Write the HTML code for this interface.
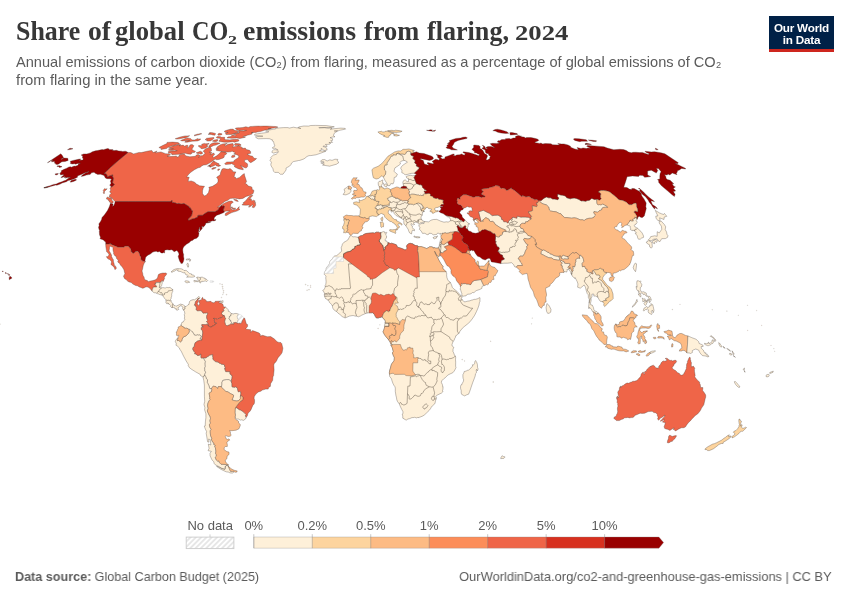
<!DOCTYPE html>
<html lang="en">
<head>
<meta charset="utf-8">
<title>Share of global CO2 emissions from flaring, 2024</title>
<style>
html,body{margin:0;padding:0;background:#fff;}
body{width:850px;height:600px;position:relative;overflow:hidden;font-family:"Liberation Sans",sans-serif;color:#5b5b5b;}
.title{will-change:transform;position:absolute;left:0;top:0;font-family:"Liberation Serif",serif;font-weight:700;color:#373737;white-space:nowrap;}
.title span{position:absolute;line-height:normal;transform-origin:left top;}
.subtitle{will-change:transform;position:absolute;left:16px;top:53px;font-size:15px;line-height:17.700px;color:#5b5b5b;white-space:nowrap;transform-origin:left top;}
.subtitle span{display:block;transform-origin:left top;}
#s1{transform:scaleX(0.9725);}
#s2{transform:scaleX(0.992);}
.logo{will-change:transform;position:absolute;left:769.300px;top:15.800px;width:64.900px;height:33px;background:#002147;border-bottom:3.200px solid #ce261e;color:#fff;font-weight:700;font-size:11.700px;line-height:12.200px;text-align:center;letter-spacing:-0.2px;}
.logo span{display:block;}
.logo span.a{margin-top:5.500px;}
svg.map{position:absolute;left:0;top:0;will-change:transform;}
.foot{will-change:transform;position:absolute;top:568.500px;font-size:13px;line-height:16px;color:#5b5b5b;white-space:nowrap;}
.foot.l{left:15px;transform-origin:left top;transform:scaleX(0.968);}
.foot.r{right:18.500px;transform-origin:right top;transform:scaleX(0.989);}
.foot b{font-weight:700;}
.leg text{font-family:"Liberation Sans",sans-serif;font-size:13px;fill:#5b5b5b;}
</style>
</head>
<body>
<div class="title"><span style="left:16.4px;top:16.18px;font-size:26.85px;transform:scaleX(0.965)">Share</span><span style="left:88.3px;top:16.18px;font-size:26.85px;transform:scaleX(1.030)">of</span><span style="left:115.4px;top:16.18px;font-size:26.85px;transform:scaleX(0.992)">global</span><span style="left:192.4px;top:16.18px;font-size:26.85px;transform:scaleX(0.900)">CO</span><span style="left:227.9px;top:31.92px;font-size:13.00px;transform:scaleX(1.380)">2</span><span style="left:243.3px;top:16.18px;font-size:26.85px;transform:scaleX(1.040)">emissions</span><span style="left:363.6px;top:16.18px;font-size:26.85px;transform:scaleX(0.983)">from</span><span style="left:426.7px;top:16.18px;font-size:26.85px;transform:scaleX(0.973)">flaring,</span><span style="left:514.7px;top:22.01px;font-size:20.30px;transform:scaleX(1.315)">2024</span></div>
<div class="subtitle"><span id="s1">Annual emissions of carbon dioxide (CO₂) from flaring, measured as a percentage of global emissions of CO₂</span><span id="s2">from flaring in the same year.</span></div>
<div class="logo"><span class="a">Our World</span><span>in Data</span></div>
<svg class="map" width="850" height="600" viewBox="0 0 850 600">
<defs>
<pattern id="hatch" width="3.750" height="3.750" patternUnits="userSpaceOnUse" patternTransform="rotate(45)">
<rect width="3.750" height="3.750" fill="#fff"/><line x1="0.950" y1="0" x2="0.950" y2="3.750" stroke="#e6e6e6" stroke-width="1.9"/>
</pattern>
</defs>
<g stroke="#40362e" stroke-width="0.4" stroke-opacity="0.8" stroke-linejoin="round">
<path fill="#ef6548" d="M128.0,152.4L130.9,152.6L133.6,153.9L139.0,152.4L141.2,152.6L148.2,151.0L151.8,150.4L153.1,152.6L157.1,151.0L155.3,152.8L161.0,151.9L165.6,153.7L169.4,153.9L170.5,155.0L167.0,156.1L169.7,156.6L174.5,156.3L176.4,155.9L176.9,157.2L179.8,156.1L178.9,155.2L180.6,154.4L184.3,154.1L185.9,155.9L189.9,156.8L195.5,156.3L196.3,155.0L198.2,154.6L200.2,155.4L198.5,157.5L201.0,155.7L202.4,155.7L205.0,153.5L204.3,152.1L203.1,151.3L205.4,148.9L208.7,147.4L210.6,147.6L211.3,148.7L211.5,151.0L209.1,152.1L211.9,152.6L210.0,154.8L213.8,153.0L214.6,154.6L212.9,156.1L213.3,157.7L216.3,156.1L218.9,154.1L221.0,151.7L223.1,151.9L225.4,152.1L226.8,153.2L226.2,154.3L224.0,155.7L224.4,156.8L223.4,157.9L219.0,159.5L216.5,159.7L215.0,159.0L213.7,160.2L210.7,162.2L209.5,163.1L206.3,164.8L203.7,165.0L201.6,165.9L200.4,167.3L198.1,167.8L194.4,169.7L190.8,172.3L188.7,174.2L186.6,177.1L189.2,177.3L188.4,179.7L188.2,181.4L191.2,180.9L194.1,182.0L195.5,182.9L196.1,184.1L198.0,184.8L199.5,185.8L202.5,186.1L204.5,186.3L203.2,188.3L202.5,190.8L202.5,193.5L204.3,196.0L206.2,195.3L208.5,192.5L209.4,188.8L208.8,187.3L212.4,186.3L215.3,184.6L217.4,182.9L218.1,181.2L217.9,179.1L216.6,177.3L220.2,174.8L220.6,172.6L222.1,169.0L223.8,168.4L226.5,169.0L228.2,169.2L230.0,168.6L231.3,169.4L232.7,170.8L232.8,171.7L235.9,171.9L234.9,173.9L234.0,176.9L235.5,177.3L236.1,178.7L239.5,177.4L242.5,174.7L244.3,173.6L244.7,175.8L245.7,178.8L246.6,181.7L245.2,183.3L247.1,184.6L248.3,186.1L251.1,186.7L252.1,187.5L252.1,189.6L253.5,189.9L253.9,190.9L253.1,193.6L251.4,194.6L249.6,195.5L246.1,196.4L242.9,198.4L239.4,198.9L235.3,198.3L232.3,198.3L230.1,198.5L227.8,200.3L224.8,201.4L220.7,204.8L217.5,207.1L219.4,206.7L223.8,203.4L228.8,201.3L231.9,201.0L233.3,202.2L230.8,203.9L230.5,206.7L230.6,208.6L232.8,209.9L236.3,209.5L239.3,206.6L238.8,208.5L239.9,209.4L236.9,211.1L231.8,212.6L229.4,213.7L226.6,215.5L225.0,215.3L225.6,213.2L229.9,211.0L226.6,211.1L224.2,211.4L223.3,210.0L224.5,206.5L223.8,205.8L222.3,206.2L221.8,205.5L219.6,207.5L218.3,209.5L217.2,210.6L216.2,211.0L215.0,211.8L211.2,211.8L208.1,211.8L207.0,212.3L204.1,214.1L202.7,215.3L198.8,215.3L197.7,215.7L197.8,216.2L197.7,217.0L194.4,218.6L192.1,219.0L189.1,220.3L188.0,220.0L188.1,219.3L190.4,217.0L191.6,215.5L192.1,213.2L192.6,210.9L190.9,209.7L191.2,208.9L190.4,208.5L190.5,207.9L189.5,208.1L189.3,207.6L189.4,206.9L188.2,206.1L186.9,205.3L185.3,204.3L183.9,203.4L181.7,204.1L181.0,204.1L178.9,203.4L177.1,203.8L175.5,203.0L173.6,202.6L172.3,202.4L171.9,202.0L172.2,200.6L171.5,200.6L171.0,201.6L166.8,201.6L160.0,201.6L153.1,201.6L147.1,201.6L141.0,201.6L135.1,201.6L128.9,201.6L121.0,201.6L115.2,201.6L115.0,201.6L112.7,199.1L112.1,198.0L109.2,197.0L109.8,194.7L111.3,193.2L109.6,192.1L110.8,190.1L110.0,188.3L111.0,187.1L113.1,185.9L114.4,184.3L112.5,182.8L113.1,180.0L113.5,178.2L112.9,177.2L112.5,176.2L112.8,174.9L110.2,175.7L107.1,177.0L107.0,175.5L106.7,174.4L105.6,173.7L103.9,173.7L110.6,167.3L118.4,160.4L128.0,152.4ZM256.6,158.5L255.2,160.0L250.8,162.7L249.2,161.7L247.6,159.5L245.2,159.8L244.3,161.1L245.4,162.4L247.2,163.5L247.6,164.1L247.6,166.4L246.2,168.1L244.2,167.4L240.7,165.6L242.2,167.6L243.3,169.0L243.2,169.8L238.8,168.9L235.7,167.5L234.1,166.4L235.1,165.7L233.2,164.6L231.3,163.4L230.9,164.1L225.6,164.5L224.6,163.7L226.8,162.0L230.1,161.9L233.9,161.7L233.8,160.8L235.1,159.7L238.6,157.5L238.7,156.5L238.6,155.7L236.7,154.7L233.7,153.9L235.2,153.3L234.4,152.0L233.0,151.9L232.2,151.1L230.9,151.8L227.6,152.1L222.0,151.5L219.0,150.9L216.6,150.6L215.8,149.8L218.4,148.8L216.0,148.8L217.4,146.7L220.3,144.8L222.7,143.9L227.3,143.4L225.0,144.7L225.1,146.0L228.0,144.3L232.8,143.5L233.7,145.6L232.4,147.0L236.0,146.4L238.2,145.6L240.9,146.7L242.5,147.7L242.0,148.6L245.4,148.1L246.1,149.5L249.5,150.3L250.4,151.2L250.8,153.3L247.1,154.3L250.2,155.7L252.6,156.2L254.0,158.3ZM193.9,145.8L192.8,147.8L191.8,149.3L193.5,150.4L195.5,151.4L194.4,152.4L191.5,152.6L191.9,153.4L190.5,154.2L187.8,153.9L185.5,153.3L183.4,153.4L179.6,154.2L175.0,154.5L171.8,154.7L171.9,153.7L170.2,153.1L168.5,153.3L168.3,151.6L169.6,151.3L172.6,151.0L174.8,151.1L177.3,150.7L174.7,150.2L171.0,150.4L168.7,150.3L168.7,149.5L173.4,148.7L170.9,148.7L168.7,148.1L171.9,146.5L174.0,145.7L179.7,144.4L180.9,144.8L179.0,145.8L183.3,145.1L184.3,146.2L187.3,145.1L188.0,145.8L187.1,147.9L188.9,147.0L190.0,144.9L191.8,144.6L193.0,144.9ZM166.9,143.6L167.0,142.4L172.7,142.1L178.1,142.6L179.0,143.2L179.6,144.1L177.0,144.6L171.3,146.1L167.6,147.6L166.5,148.5L161.0,149.5L161.3,148.6L158.9,147.5L160.6,146.6L163.7,145.0ZM277.6,127.3L273.6,128.1L269.8,128.4L268.2,128.7L271.3,128.7L267.1,129.7L264.2,130.3L260.5,131.6L257.2,132.0L255.9,132.4L251.4,132.5L253.2,132.7L251.8,133.1L252.1,134.0L250.2,134.6L247.3,135.2L245.8,135.9L243.1,136.5L243.0,136.9L245.5,136.9L245.2,137.3L239.9,138.5L236.6,137.9L231.7,138.3L229.7,138.1L227.0,137.9L227.9,136.9L231.1,136.5L231.8,135.2L233.1,135.0L235.9,135.9L235.4,134.6L233.4,134.2L235.4,133.5L238.4,133.1L239.5,132.5L238.3,131.8L238.9,130.8L242.6,130.9L243.5,131.1L246.6,130.4L243.5,130.3L238.3,130.4L236.6,129.7L236.3,129.1L235.3,128.6L235.6,128.1L238.1,127.8L239.8,127.8L242.8,127.5L245.7,126.8L247.1,127.0L248.1,127.5L250.3,126.5L252.3,126.4L254.9,126.2L259.2,126.1L259.8,126.2L263.9,126.1L266.8,126.1L269.6,126.2L273.1,126.4L275.9,126.5L277.9,127.0ZM221.5,137.3L224.5,137.3L225.0,138.1L223.9,138.7L225.0,139.3L225.6,139.7L227.7,139.7L229.7,139.9L232.5,139.5L235.8,139.3L238.2,139.5L239.0,140.3L238.7,141.1L237.3,141.5L234.6,142.2L232.9,141.7L228.0,142.2L224.7,142.2L222.4,141.9L218.9,141.3L219.6,140.1L220.5,139.1L219.9,138.3L216.9,138.1L216.2,137.3L217.7,136.5L220.5,136.7ZM238.5,132.5L235.8,133.1L231.7,134.4L228.8,134.6L225.9,134.4L225.4,133.5L226.3,132.9L228.1,132.4L225.4,132.4L224.4,131.8L224.7,130.9L226.6,130.3L228.3,129.7L229.9,129.6L229.8,129.2L233.2,129.1L233.8,130.1L235.6,130.4L237.6,130.8L237.5,131.8ZM197.8,138.5L197.6,139.2L199.3,138.9L200.8,139.0L199.9,139.9L197.8,140.9L192.1,141.2L187.1,142.2L184.8,142.2L185.2,141.5L189.7,140.5L182.2,140.9L180.6,140.5L185.5,138.5L187.7,137.9L190.9,138.7L192.1,139.9L194.7,139.9ZM213.7,145.5L210.4,147.2L208.8,147.0L209.4,145.3L210.4,144.2L212.2,143.2L214.2,142.8L217.5,142.8L220.1,143.2L216.0,145.1ZM205.8,147.9L202.3,148.7L201.0,148.5L200.5,147.8L198.2,146.1L198.8,145.5L201.9,145.7L201.7,144.2L204.3,143.4L205.8,143.8L209.0,143.4L208.9,144.0L206.3,145.1L208.0,145.9ZM209.5,165.0L210.0,167.2L210.1,165.9L207.6,166.2L209.9,164.9L211.5,163.1L213.4,161.1L214.6,161.1L214.2,162.2L215.4,161.8L216.0,162.5L217.4,163.1L219.1,163.8L218.4,165.0L219.9,164.9L220.6,165.7L218.5,166.4L216.2,165.8L215.8,164.8L213.3,166.0L210.0,167.2ZM189.6,135.7L187.4,137.1L185.1,137.9L183.7,137.9L179.6,138.8L176.7,139.1L175.2,138.7L180.1,137.1L185.0,135.9L187.2,135.9ZM194.0,135.2L197.3,134.2L200.9,133.5L201.8,133.8L198.8,134.8L194.7,135.8ZM232.2,155.4L234.7,155.2L234.9,156.8L232.8,157.6L231.3,157.2ZM209.9,132.5L212.6,132.7L215.5,133.5L215.3,134.4L214.9,135.2L212.8,135.0L211.1,134.4L208.0,134.2L210.3,133.6L209.0,133.3ZM218.0,134.0L219.0,133.3L220.6,133.5L221.3,133.5L222.2,134.2L221.1,134.9L218.4,135.3L217.8,134.8ZM252.6,195.8L251.1,197.3L249.0,199.6L250.7,198.7L251.7,199.2L250.8,200.1L252.3,200.8L253.5,200.2L255.2,200.9L254.1,202.8L255.6,202.4L255.5,203.7L255.7,205.3L254.2,207.5L253.3,207.6L252.1,207.2L253.1,205.1L252.6,204.8L249.6,207.0L248.4,206.9L250.2,205.7L248.4,205.1L246.2,205.2L242.3,205.1L242.2,204.4L243.7,203.5L243.1,202.8L245.2,201.3L248.6,197.2L250.3,195.8L252.3,195.0ZM113.1,202.8L111.8,203.2L109.3,202.0L109.3,201.1L108.1,200.2L108.2,199.5L106.5,199.1L106.7,197.7L107.3,197.1L109.0,197.7L109.9,198.0L111.6,198.3L111.7,199.2L111.9,200.4L113.2,201.4ZM233.6,199.3L236.7,199.8L238.4,201.3L237.3,201.4L235.0,200.6L233.6,199.3ZM232.1,206.7L232.4,207.8L233.9,208.2L235.8,208.2L234.4,209.2L233.6,209.3L231.5,208.2L231.1,207.4ZM104.6,188.5L105.2,189.0L107.2,188.8L104.4,191.5L104.4,193.5L103.6,193.5L103.3,192.5L103.7,191.3L103.2,190.5L103.9,189.4ZM217.9,139.7L217.5,141.0L215.7,141.7L213.7,141.6L212.4,141.1L214.2,140.1L217.0,139.6ZM202.6,153.5L200.9,154.2L199.3,153.5L197.7,153.8L196.2,152.8L198.3,152.1L200.3,151.2L201.5,151.8L202.2,152.2L202.3,152.6ZM219.8,169.3L218.4,170.5L217.7,170.3L217.7,169.6L217.8,169.5L219.0,168.8ZM216.2,167.6L215.9,168.0L213.0,169.3L211.8,169.2L211.8,168.6L213.8,167.5ZM236.0,143.5L239.3,143.7L241.1,144.8L240.9,145.4L239.2,145.4L237.5,145.3L235.5,145.6L235.2,145.5L234.3,144.4L235.0,143.6ZM213.8,137.5L214.1,138.3L212.7,139.5L210.4,140.9L207.6,141.1L206.4,140.7L207.5,139.7L205.1,139.7L206.6,138.3L211.3,137.7Z"/>
<path fill="#990000" d="M115.2,201.6L121.0,201.6L128.9,201.6L135.1,201.6L141.0,201.6L147.1,201.6L153.1,201.6L160.0,201.6L166.8,201.6L171.0,201.6L171.5,200.6L172.2,200.6L171.9,202.0L172.3,202.4L173.6,202.6L175.5,203.0L177.1,203.8L178.9,203.4L181.0,204.1L181.7,204.1L183.9,203.4L185.3,204.3L186.9,205.3L188.2,206.1L189.4,206.9L189.3,207.6L189.5,208.1L190.5,207.9L190.4,208.5L191.2,208.9L190.9,209.7L192.6,210.9L192.1,213.2L191.6,215.5L190.4,217.0L188.1,219.3L188.0,220.0L189.1,220.3L192.1,219.0L194.4,218.6L197.7,217.0L197.8,216.2L197.7,215.7L198.8,215.3L202.7,215.3L204.1,214.1L207.0,212.3L208.1,211.8L211.2,211.8L215.0,211.8L216.2,211.0L217.2,210.6L218.3,209.5L219.6,207.5L221.8,205.5L222.3,206.2L223.8,205.8L224.5,206.5L223.3,210.0L224.2,211.4L224.2,211.4L224.3,212.3L221.6,213.5L219.2,214.4L216.8,215.2L215.1,216.7L214.6,217.3L214.1,218.6L214.4,220.0L215.3,220.1L215.3,219.1L215.8,219.7L215.4,220.5L213.8,220.9L212.8,220.8L211.1,221.3L210.2,221.4L208.9,221.5L206.9,222.3L210.2,221.8L210.6,222.3L207.4,223.1L206.1,223.1L206.2,222.8L205.4,223.5L206.0,223.6L204.9,225.5L202.8,227.5L202.8,226.8L202.4,226.6L201.9,226.0L201.9,227.4L202.3,227.9L202.0,228.9L201.1,229.8L199.3,231.9L199.1,231.8L200.3,230.1L199.5,229.1L199.9,226.9L199.1,228.0L199.1,229.7L197.8,229.3L199.0,230.1L198.4,232.6L199.0,232.8L198.9,233.7L198.5,236.3L196.7,238.2L194.2,239.0L192.4,240.5L191.3,240.7L189.9,241.7L189.4,242.5L186.5,244.2L185.0,245.5L183.6,247.0L182.8,248.9L182.8,250.7L183.1,252.9L183.7,254.8L183.5,255.9L184.0,258.9L183.6,260.7L183.3,261.7L182.5,263.3L181.8,263.6L180.8,263.3L180.6,262.2L179.8,261.6L179.0,259.3L178.4,257.3L178.2,256.3L179.0,254.6L178.7,253.1L177.4,250.9L176.7,250.5L174.2,251.7L173.8,251.6L173.0,250.4L171.8,249.7L169.2,250.1L167.3,249.8L165.6,249.9L164.6,250.4L164.8,251.1L164.5,252.1L164.8,252.6L164.3,253.0L163.6,252.6L162.7,253.1L161.1,253.0L159.7,251.6L157.7,251.9L156.3,251.3L154.8,251.5L152.8,252.1L150.3,254.1L147.9,255.2L146.4,256.4L145.6,257.6L145.2,259.4L145.0,260.7L145.3,261.6L145.3,261.6L144.4,261.6L142.9,261.1L141.3,260.2L141.0,259.0L140.9,257.2L139.9,255.7L139.5,254.2L138.9,252.4L137.6,251.3L135.7,251.4L133.8,253.5L132.2,252.7L131.2,251.9L131.1,250.5L130.7,249.1L129.8,247.9L128.9,247.1L128.4,246.2L124.6,246.2L124.2,247.3L122.5,247.3L118.1,247.3L113.7,245.4L110.8,244.2L111.2,243.7L108.3,244.0L105.7,244.1L105.7,244.1L105.8,242.8L105.0,241.3L104.1,241.0L104.1,240.2L103.0,240.1L102.4,239.4L100.5,239.1L100.1,238.7L100.5,237.3L99.5,234.7L99.3,231.1L99.6,230.5L99.1,229.6L98.5,227.4L99.2,225.3L98.8,223.9L100.4,221.7L101.6,219.5L102.0,217.5L104.3,215.1L107.5,210.5L109.2,207.0L110.0,204.8L110.1,203.7L110.7,203.2L113.1,204.0L112.7,206.4L113.6,205.8L114.6,203.7L115.2,201.6ZM128.0,152.4L118.4,160.4L110.6,167.3L103.9,173.7L105.6,173.7L106.7,174.4L107.0,175.5L107.1,177.0L110.2,175.7L112.8,174.9L112.5,176.2L112.9,177.2L113.5,178.2L113.1,180.0L112.5,182.8L114.4,184.3L113.1,185.9L111.0,187.1L111.0,187.1L110.8,186.1L109.7,185.3L111.1,183.2L110.4,181.2L111.5,178.9L109.9,178.8L107.0,178.7L105.4,178.0L104.1,175.5L102.8,175.1L100.4,174.2L97.7,174.4L95.2,173.3L94.1,172.3L91.5,172.8L90.1,174.5L88.9,174.6L86.3,175.1L83.8,175.9L81.2,176.4L82.4,175.0L85.9,172.7L88.6,172.0L88.8,171.4L85.0,172.7L81.9,174.3L77.4,176.0L77.5,177.2L73.8,178.9L70.7,179.9L68.0,180.6L66.4,181.7L62.1,183.0L60.2,184.1L56.9,185.2L55.8,185.0L53.3,185.7L50.4,186.5L48.0,187.3L43.9,188.0L44.0,187.6L47.4,186.5L50.1,185.7L53.5,184.4L56.2,184.1L58.2,183.1L62.5,181.6L63.4,181.1L65.7,180.3L68.1,178.4L70.6,177.0L67.7,177.7L67.5,177.3L65.5,178.2L65.7,177.0L64.2,177.8L64.9,176.6L61.9,177.6L60.8,177.6L62.3,176.2L63.6,175.3L63.4,174.4L60.5,174.9L60.3,173.8L59.7,173.2L61.4,171.9L61.2,170.8L63.6,169.5L66.7,168.2L68.9,167.0L70.6,166.8L71.3,167.2L74.2,166.1L75.2,166.2L77.5,165.5L78.5,164.5L78.0,164.1L80.5,163.2L79.4,163.2L76.9,163.7L75.7,164.2L74.9,163.7L72.1,164.0L70.3,163.4L70.7,162.5L70.3,161.2L74.1,160.2L79.4,159.1L80.9,159.1L79.1,160.2L82.9,160.1L83.3,158.7L82.4,157.9L82.7,156.7L82.4,155.8L81.1,155.1L83.7,153.9L86.8,153.9L90.3,152.9L92.3,151.8L95.5,150.8L97.5,150.5L102.1,149.6L103.4,149.7L107.6,148.5L109.4,149.0L109.2,150.0L110.5,149.6L113.1,149.7L112.3,150.2L114.3,150.6L116.3,150.3L118.8,151.0L121.7,151.2L122.6,151.5L125.3,151.2L126.9,151.8ZM75.2,179.3L76.3,179.5L76.3,180.2L73.5,181.4L70.6,182.3L70.3,181.7L71.2,180.5L73.8,179.7ZM58.1,165.5L58.6,165.9L60.0,165.7L60.6,166.3L62.0,166.6L61.5,166.9L59.5,167.4L58.8,166.9L58.7,166.4L57.0,166.6L56.8,166.4ZM57.3,173.5L58.5,173.7L57.6,174.6L56.0,175.0L55.3,174.6L55.0,173.9ZM44.0,187.6L47.7,186.9L47.8,187.4L43.9,188.0ZM9.9,279.3L9.5,279.7L9.0,279.3L9.2,278.6L9.1,277.7L9.7,276.9L9.7,276.4L9.9,276.2L11.2,276.9L11.5,277.2L11.8,278.2ZM9.6,275.2L8.8,275.4L8.6,274.8L8.4,274.6L8.4,274.5L8.6,274.2L9.4,274.5L9.9,274.9ZM8.4,273.8L7.3,274.0L7.3,273.7L8.3,274.1ZM6.5,273.4L5.6,273.6L5.3,272.9L5.2,272.8L5.9,272.4L6.0,272.6ZM3.1,271.7L2.1,271.5L2.3,271.3L2.7,271.0L3.2,271.1Z"/>
<path fill="#ef6548" d="M105.7,244.1L108.3,244.0L111.2,243.7L110.8,244.2L113.7,245.4L118.1,247.3L122.5,247.3L124.2,247.3L124.6,246.2L128.4,246.2L128.9,247.1L129.8,247.9L130.7,249.1L131.1,250.5L131.2,251.9L132.2,252.7L133.8,253.5L135.7,251.4L137.6,251.3L138.9,252.4L139.5,254.2L139.9,255.7L140.9,257.2L141.0,259.0L141.3,260.2L142.9,261.1L144.4,261.6L145.3,261.6L145.3,261.6L143.9,263.8L143.2,265.7L142.5,269.2L142.1,270.5L142.2,271.9L142.7,273.2L142.9,275.2L144.1,277.2L144.4,278.7L145.1,279.9L147.4,280.6L148.2,281.7L150.3,281.0L152.1,280.7L153.9,280.3L155.3,279.8L156.9,278.8L157.7,277.2L158.2,275.0L158.7,274.3L160.3,273.6L162.8,273.0L164.7,273.1L166.1,272.9L166.6,273.4L166.4,274.7L165.0,276.2L164.2,277.8L164.6,278.3L164.1,279.4L163.2,281.4L162.8,280.7L162.3,280.8L162.3,280.8L161.8,280.8L160.8,282.4L160.5,282.1L160.2,282.2L160.1,282.6L160.1,282.6L158.0,282.6L155.9,282.6L155.7,284.1L154.7,284.1L155.4,284.9L156.2,285.5L156.4,286.1L156.7,286.3L156.6,287.1L153.6,287.1L152.3,289.3L152.6,289.8L152.3,290.4L152.1,291.1L152.1,291.1L149.8,288.3L148.7,287.5L147.0,286.8L145.7,287.0L143.7,288.0L142.5,288.2L141.0,287.5L139.4,287.0L137.4,285.8L135.7,285.5L133.3,284.3L131.6,283.0L131.1,282.3L129.9,282.2L127.7,281.3L126.9,280.1L124.7,278.7L123.8,277.0L123.5,275.8L124.3,275.5L124.2,274.7L124.8,274.1L124.9,273.2L124.4,272.0L124.3,271.0L123.8,269.6L122.3,267.0L120.4,265.0L119.7,263.4L118.0,262.3L117.7,261.7L118.4,260.1L117.4,259.4L116.4,258.2L116.3,256.4L115.1,256.1L114.2,254.8L113.5,253.5L113.7,252.7L113.1,250.7L112.9,248.7L113.2,247.7L112.0,246.7L111.2,246.8L110.2,246.1L109.5,247.1L109.5,248.4L109.1,250.4L109.5,251.4L110.6,253.2L110.8,253.8L111.1,254.0L111.1,254.9L111.5,254.9L111.5,256.6L112.0,257.2L112.3,258.2L113.3,259.5L113.5,261.9L113.9,263.1L114.3,264.3L114.1,265.7L115.2,265.7L115.9,266.9L116.4,268.1L116.3,268.5L115.2,269.5L114.8,269.5L114.5,267.9L113.3,266.4L111.9,265.2L110.9,264.5L111.4,262.6L111.4,261.2L110.5,260.4L109.3,259.2L108.9,259.5L108.5,258.9L107.3,258.2L106.4,256.7L106.6,256.5L107.5,256.7L108.5,255.7L109.0,254.5L107.8,252.6L106.7,251.9L106.4,250.3L106.1,248.6L105.8,246.5Z"/>
<path fill="#fef0d9" d="M152.1,291.1L152.3,290.4L152.6,289.8L152.3,289.3L153.6,287.1L156.6,287.1L156.7,286.3L156.4,286.1L156.2,285.5L155.4,284.9L154.7,284.1L155.7,284.1L155.9,282.6L158.0,282.6L160.1,282.6L160.1,282.6L160.2,282.2L160.5,282.1L160.8,282.4L161.8,280.8L162.3,280.8L162.3,280.8L162.7,281.2L162.5,281.9L162.0,283.0L162.2,283.4L161.8,284.4L161.9,284.6L161.5,285.9L161.0,286.6L160.6,286.7L160.0,287.6L160.7,288.1L160.9,287.7L161.6,288.0L162.4,287.7L163.0,287.6L164.6,287.9L165.7,287.9L166.4,287.6L166.7,287.3L167.4,287.5L168.0,287.6L168.6,287.6L169.1,287.3L170.0,287.7L170.4,287.7L171.1,288.2L171.7,288.8L172.4,289.2L173.0,289.9L172.8,290.2L172.6,290.8L172.7,291.7L172.1,292.6L171.8,293.7L171.6,294.8L171.7,295.5L171.6,296.7L171.3,296.9L171.0,298.1L171.1,298.7L170.5,299.4L170.6,300.1L170.9,300.5L171.4,301.9L172.2,303.0L173.2,304.1L174.0,305.1L173.9,305.6L174.8,305.7L175.1,305.5L175.7,306.1L176.8,306.0L177.8,305.3L179.3,304.8L180.1,304.0L181.3,304.2L181.2,304.4L182.5,304.5L183.5,304.9L184.2,305.7L185.1,306.5L184.8,306.9L185.2,308.4L184.7,309.2L184.0,309.0L183.7,310.2L182.9,309.5L182.5,308.1L183.1,307.4L182.5,307.2L182.1,306.3L181.0,305.6L180.0,305.8L179.5,306.7L178.6,307.3L178.0,307.4L177.8,308.0L178.8,309.4L178.2,309.7L177.8,310.1L176.7,310.2L176.4,308.7L176.1,309.1L175.3,309.0L174.9,307.9L174.0,307.7L173.4,307.5L172.4,307.5L172.3,308.0L172.1,307.6L170.9,307.0L170.4,306.5L170.7,306.0L170.7,305.5L170.1,304.8L169.2,304.3L168.4,304.0L168.3,303.2L167.7,302.8L167.9,303.5L167.4,304.1L166.9,303.4L166.2,303.2L165.9,302.6L165.9,301.8L166.3,301.0L165.7,300.6L166.2,300.1L165.5,299.3L164.5,298.3L164.1,297.4L163.2,296.6L162.1,295.4L162.4,295.0L162.8,295.4L162.9,295.2L162.6,294.4L162.0,294.2L161.7,294.8L160.3,294.7L159.5,294.5L158.6,294.0L157.4,293.8L156.8,293.2L155.6,292.8L154.2,292.7L153.2,292.2L152.1,291.1Z"/>
<path fill="#fef0d9" d="M177.5,268.5L179.4,268.7L181.2,268.8L183.2,269.6L184.0,270.6L186.1,270.3L186.8,270.9L188.6,272.5L189.8,273.7L190.6,273.7L191.9,274.2L191.6,274.9L193.3,275.1L194.9,276.1L194.5,276.7L193.0,277.1L191.5,277.2L189.9,277.0L186.6,277.2L188.3,275.8L187.5,275.1L186.0,274.9L185.4,274.2L185.0,272.7L183.7,272.8L181.7,272.1L181.1,271.6L178.2,271.2L177.5,270.6L178.4,270.0L176.2,269.9L174.4,271.2L173.4,271.3L173.0,271.9L171.9,272.2L171.0,271.9L172.2,271.1L172.9,270.2L174.0,269.6L175.2,269.1Z"/>
<path fill="#fef0d9" d="M197.0,277.1L198.4,277.2L200.3,277.6L200.6,277.2L202.4,277.2L203.7,277.9L204.3,277.8L204.6,278.7L205.8,278.7L205.7,279.4L206.7,279.5L207.7,280.5L206.7,281.6L205.7,281.0L204.7,281.1L203.9,281.0L203.5,281.4L202.6,281.6L202.3,281.0L201.5,281.4L200.4,283.1L199.9,282.7L199.8,282.0L198.4,281.6L197.3,281.7L195.9,281.5L194.8,282.0L193.7,281.2L194.0,280.4L196.0,280.7L197.7,280.9L198.6,280.4L197.7,279.2L197.8,278.2L196.4,277.8Z"/>
<path fill="#fef0d9" d="M186.6,280.8L188.1,281.1L189.3,281.7L189.6,282.4L188.0,282.4L187.2,282.9L186.0,282.5L184.8,281.5L185.2,280.9Z"/>
<path fill="url(#hatch)" stroke="#b9b9b9" d="M212.3,280.8L213.4,281.0L213.8,281.5L213.1,282.2L211.4,282.2L210.1,282.2L210.1,281.1L210.4,280.7Z"/>
<path fill="#fef0d9" d="M188.4,267.1L187.8,267.2L187.4,265.7L186.7,264.9L187.4,263.3L188.1,263.4L188.6,265.5ZM188.8,259.7L186.3,260.1L186.3,259.1L187.4,258.9L188.9,259.0ZM190.7,259.7L190.0,261.5L189.6,261.2L189.9,259.8L189.1,258.8L189.1,258.5Z"/>
<path fill="#fef0d9" d="M221.3,301.0L222.7,300.7L223.1,300.7L222.9,302.7L221.0,303.0L220.6,302.8L221.3,302.0Z"/>
<path fill="#fef0d9" d="M298.7,126.9L303.9,126.0L308.6,126.1L310.7,125.5L315.5,125.4L326.2,125.6L334.3,126.8L331.6,127.4L326.3,127.5L318.8,127.6L319.3,127.9L324.3,127.7L328.3,128.3L331.1,127.8L332.1,128.4L330.3,129.3L334.0,128.7L340.9,128.1L345.1,128.4L345.7,129.1L339.7,130.3L338.8,130.7L334.2,131.0L337.5,131.1L335.5,132.4L334.0,133.5L333.5,135.7L335.0,136.9L332.6,137.0L330.0,137.7L332.6,138.7L332.5,140.4L330.8,140.6L332.5,142.4L328.9,142.5L330.6,143.3L329.9,144.1L327.6,144.4L325.4,144.4L327.1,145.8L326.9,146.8L323.9,145.9L322.9,146.5L325.0,147.0L326.8,148.3L327.1,150.1L324.0,150.5L323.0,149.6L321.2,148.4L321.4,149.9L319.3,151.0L323.6,151.1L325.9,151.2L321.0,153.1L316.0,154.8L310.9,155.6L309.0,155.6L307.0,156.5L304.0,158.9L299.8,160.4L298.6,160.5L296.1,161.1L293.4,161.6L291.5,163.1L290.9,164.7L289.5,166.2L286.0,168.1L286.1,169.9L284.7,171.9L283.0,174.2L280.4,174.3L278.3,172.4L274.7,172.4L273.4,171.1L273.0,168.8L271.1,165.9L270.8,164.3L271.4,162.3L269.9,160.2L271.3,158.5L270.5,157.7L273.3,155.1L276.2,154.3L277.3,153.3L278.5,151.6L276.2,152.4L275.1,152.7L273.5,153.1L271.8,152.3L272.4,150.9L273.6,149.7L275.2,149.7L278.2,150.2L276.1,148.9L275.0,148.1L273.2,148.4L272.2,147.9L275.0,145.9L274.5,145.1L274.0,143.7L273.5,141.5L272.0,140.7L272.6,139.9L269.3,138.7L266.1,138.6L262.0,138.7L258.2,138.8L256.9,138.2L255.4,136.9L259.8,136.3L262.9,136.2L257.0,135.7L254.3,134.9L255.2,134.1L261.6,133.2L267.7,132.4L268.9,131.7L265.6,131.1L267.4,130.4L273.4,129.2L275.6,129.0L275.7,128.3L279.3,127.9L283.8,127.6L288.0,127.6L289.2,128.1L293.5,127.2L296.4,127.8L298.2,127.9L300.8,128.5L298.0,127.6Z"/>
<path fill="#fef0d9" d="M337.8,159.4L337.2,160.8L339.0,162.4L336.5,164.2L331.2,165.7L329.6,166.2L327.3,165.8L322.5,165.1L324.4,164.1L320.8,162.9L324.0,162.5L324.0,161.8L320.5,161.3L321.9,159.8L324.6,159.5L327.1,161.0L329.9,159.8L332.0,160.4L335.0,159.2Z"/>
<path fill="#fef0d9" d="M185.1,306.5L186.2,306.5L188.0,304.7L189.0,304.5L189.1,303.6L189.6,301.4L191.0,300.2L192.5,300.1L192.7,299.6L194.5,299.8L196.4,298.5L197.3,297.9L198.5,296.6L199.3,296.8L199.8,297.5L199.3,298.3L197.8,298.8L197.2,300.1L196.3,300.8L195.5,301.8L195.1,303.7L194.4,305.2L195.6,305.4L195.8,306.6L196.3,307.1L196.4,308.2L196.1,309.2L196.2,309.7L196.7,309.9L197.3,310.8L200.2,310.6L201.6,310.9L203.1,313.2L204.0,312.9L205.7,313.0L207.0,312.7L207.8,313.2L207.4,314.6L206.8,315.5L206.6,317.4L207.0,319.1L207.6,319.9L207.7,320.4L206.5,321.7L207.3,322.3L207.9,323.2L208.6,325.8L208.2,326.1L207.7,324.6L207.1,323.8L206.3,324.7L201.8,324.6L201.9,326.3L203.2,326.5L203.1,327.5L202.7,327.2L201.3,327.7L201.3,329.6L202.4,330.5L202.7,332.0L202.7,333.2L201.8,340.3L200.6,338.9L199.9,338.9L201.3,336.2L199.6,335.0L198.2,335.2L197.3,334.8L196.1,335.4L194.4,335.1L193.0,332.4L191.9,331.7L189.6,329.3L189.0,329.5L188.0,328.9L186.9,328.0L186.2,328.4L184.3,328.1L183.7,326.9L183.3,327.0L181.0,325.5L180.7,324.7L181.5,324.5L181.5,323.2L182.0,322.2L183.2,322.1L184.2,320.4L185.1,319.0L184.3,318.4L184.7,316.9L184.3,314.5L184.8,313.8L184.5,311.6L183.7,310.2L184.0,309.0L184.7,309.2L185.2,308.4L184.8,306.9Z"/>
<path fill="#fef0d9" d="M225.5,307.2L226.9,308.2L228.3,309.9L228.3,311.3L229.2,311.3L230.4,312.6L231.3,313.5L230.8,315.9L229.4,316.5L229.5,317.1L229.1,318.5L230.1,320.4L230.8,320.4L231.1,321.9L232.5,324.1L231.9,324.2L230.6,324.0L229.9,324.7L228.8,325.2L228.1,325.3L227.8,325.8L226.7,325.7L225.3,324.4L225.1,323.2L224.6,321.9L225.0,319.7L225.6,318.8L225.1,317.6L224.4,317.2L224.7,316.0L224.2,315.4L223.0,315.5L221.5,313.5L222.1,312.8L222.1,311.6L223.5,311.2L224.1,310.7L223.3,309.7L223.6,308.8Z"/>
<path fill="#fef0d9" d="M231.3,313.5L234.0,314.0L234.3,313.6L236.1,313.4L238.6,314.1L237.3,316.3L237.5,318.1L238.4,319.6L237.9,320.8L237.7,322.0L237.1,323.1L235.8,322.5L234.7,322.8L233.8,322.5L233.6,323.3L233.9,323.8L233.7,324.3L232.5,324.1L231.1,321.9L230.8,320.4L230.1,320.4L229.1,318.5L229.5,317.1L229.4,316.5L230.8,315.9Z"/>
<path fill="url(#hatch)" stroke="#b9b9b9" d="M238.6,314.1L239.4,314.3L241.1,315.0L243.5,317.2L243.8,318.2L242.4,320.6L241.7,322.6L240.8,323.6L239.7,323.7L239.4,323.0L238.8,322.9L238.1,323.6L237.1,323.1L237.7,322.0L237.9,320.8L238.4,319.6L237.5,318.1L237.3,316.3Z"/>
<path fill="#fef0d9" d="M177.8,338.0L176.0,339.6L175.3,341.5L176.5,344.0L175.8,345.1L177.5,346.2L179.3,347.9L180.1,349.8L181.1,351.0L183.6,356.2L186.2,361.0L188.4,364.5L188.1,365.2L189.2,367.4L191.1,369.0L195.5,371.8L200.2,374.4L200.5,375.5L203.0,377.0L204.1,376.3L204.5,375.0L205.7,372.2L204.5,370.0L205.0,369.1L204.5,368.1L205.3,366.8L205.2,364.6L205.1,362.8L205.6,361.9L203.3,357.7L202.1,358.1L201.0,357.8L200.9,353.9L199.1,355.4L197.1,355.3L196.2,354.0L194.6,353.8L195.1,352.7L193.7,351.1L192.6,348.7L193.2,348.3L193.2,347.2L194.6,346.4L194.3,345.0L194.8,344.1L195.0,342.9L197.5,341.1L199.4,340.6L199.7,340.2L201.8,340.3L200.6,338.9L199.9,338.9L201.3,336.2L199.6,335.0L198.2,335.2L197.3,334.8L196.1,335.4L194.4,335.1L193.0,332.4L191.9,331.7L189.6,329.3L189.0,329.5L189.3,331.5L188.6,333.2L186.1,335.9L183.4,336.9L182.1,339.2L181.7,341.0L180.4,342.1L179.4,340.7L178.4,340.5L177.5,340.7L177.4,339.7L178.1,339.1Z"/>
<path fill="#fef0d9" d="M203.3,357.7L205.6,361.9L205.1,362.8L205.2,364.6L205.3,366.8L204.5,368.1L205.0,369.1L204.5,370.0L205.7,372.2L204.5,375.0L205.8,376.8L206.3,378.7L207.6,379.8L207.2,382.3L208.7,385.2L209.9,388.8L211.5,388.5L213.2,386.1L216.2,386.8L217.7,388.6L218.4,386.5L221.0,386.6L221.4,387.2L222.0,384.1L221.9,382.7L222.8,380.4L226.7,379.6L228.8,379.7L231.0,381.0L231.1,381.8L231.8,381.2L231.4,379.8L231.9,378.6L232.2,376.5L231.5,374.9L230.2,374.2L229.9,373.2L230.1,371.7L225.7,371.6L224.6,368.5L225.3,368.5L225.2,367.4L224.7,366.6L224.5,365.1L223.1,364.3L221.7,364.3L220.6,363.6L219.1,363.0L218.1,362.1L215.5,361.6L212.9,359.3L213.0,357.6L212.7,356.5L212.8,354.6L209.8,355.0L208.7,356.0L206.7,357.1L206.2,357.8L205.0,357.9Z"/>
<path fill="#fef0d9" d="M231.1,381.8L231.0,381.0L228.8,379.7L226.7,379.6L222.8,380.4L221.9,382.7L222.0,384.1L221.4,387.2L225.9,391.5L227.8,391.8L230.8,393.8L233.2,394.8L233.7,395.9L232.0,399.9L234.3,400.6L236.9,401.0L238.6,400.6L240.4,398.6L240.4,396.3L240.7,394.8L240.9,393.3L240.7,391.8L239.9,391.3L239.1,391.8L238.2,391.7L237.9,390.6L237.4,388.3L236.9,387.5L235.4,386.8L234.5,387.3L232.0,386.8L231.9,383.2Z"/>
<path fill="#fef0d9" d="M235.3,408.0L235.1,410.1L235.0,412.8L235.5,415.4L235.1,415.9L235.2,417.6L236.8,419.1L238.3,419.0L240.5,420.1L241.7,419.8L243.4,420.4L245.6,418.9L246.2,417.3L245.4,415.8L246.1,414.6L244.5,412.8L242.6,411.3L240.1,409.7L239.3,409.7L236.7,407.7Z"/>
<path fill="#fef0d9" d="M203.0,377.0L203.8,380.7L204.4,385.0L204.4,390.8L204.4,396.2L204.7,401.3L204.0,404.5L204.9,407.7L204.6,409.8L205.9,413.8L205.9,417.6L205.4,421.8L205.2,426.0L204.3,426.1L205.3,429.0L206.6,431.6L206.2,433.3L207.0,438.1L207.6,441.8L209.0,442.2L208.6,439.0L210.2,439.7L210.9,445.0L208.3,444.1L209.1,448.4L208.0,450.6L211.4,451.4L210.0,453.3L210.1,455.8L212.1,460.1L213.9,461.8L214.0,463.2L215.3,464.8L218.4,466.3L221.9,468.5L224.8,469.3L225.3,468.2L225.2,466.5L226.6,465.5L227.9,464.9L225.9,464.5L221.0,464.2L219.5,462.7L218.8,460.9L217.5,461.0L216.4,460.1L215.2,457.4L216.3,456.3L216.3,454.7L215.6,453.4L215.9,451.2L215.4,447.8L214.7,446.3L215.4,445.8L214.9,444.9L213.7,444.4L214.1,443.3L212.8,442.3L211.3,439.3L212.0,438.8L210.6,435.7L210.3,433.0L210.2,430.7L211.2,429.7L209.9,427.2L209.3,424.8L210.5,423.1L209.9,420.9L210.5,418.4L210.0,416.0L209.3,415.5L207.3,411.0L208.2,408.3L207.5,405.8L207.9,403.4L208.9,401.0L210.3,399.3L209.5,398.3L209.8,397.5L209.1,393.1L211.4,391.8L211.9,389.1L211.5,388.5L209.9,388.8L208.7,385.2L207.2,382.3L207.6,379.8L206.3,378.7L205.8,376.8L204.5,375.0L204.1,376.3ZM228.1,465.8L230.5,471.3L232.6,471.3L233.8,471.4L233.6,472.4L232.3,473.1L230.1,472.9L228.3,472.1L226.1,471.8L223.1,470.4L220.5,469.1L216.5,466.3L218.4,466.8L221.9,468.5L224.8,469.3L225.3,468.2L225.2,466.5L226.6,465.5Z"/>
<path fill="#ef6548" d="M199.3,298.3L199.2,299.0L197.9,299.3L198.5,300.5L198.4,301.8L197.3,303.3L198.1,305.4L199.1,305.2L199.7,303.4L199.1,302.4L199.1,300.5L202.0,299.4L201.7,298.2L202.6,297.3L203.3,299.2L204.9,299.2L206.3,300.7L206.4,301.6L208.4,301.6L210.9,301.3L212.1,302.5L213.9,302.8L215.2,302.0L215.2,301.3L218.1,301.2L220.9,301.1L218.9,301.9L219.6,303.1L221.4,303.3L223.1,304.6L223.4,306.7L225.5,307.2L223.6,308.8L223.3,309.7L224.1,310.7L223.5,311.2L222.1,311.6L222.1,312.8L221.5,313.5L223.0,315.5L223.3,316.3L222.4,317.2L219.8,318.2L218.1,318.6L217.4,319.3L215.6,318.6L213.9,318.3L213.5,318.5L214.5,319.2L214.4,320.9L214.7,322.6L216.6,322.8L216.7,323.4L215.1,324.1L214.8,325.2L212.1,326.2L211.6,327.0L209.8,327.2L208.6,325.8L207.9,323.2L207.3,322.3L206.5,321.7L207.7,320.4L207.6,319.9L207.0,319.1L206.6,317.4L206.8,315.5L207.4,314.6L207.8,313.2L207.0,312.7L205.7,313.0L204.0,312.9L203.1,313.2L201.6,310.9L200.2,310.6L197.3,310.8L196.7,309.9L196.2,309.7L196.1,309.2L196.4,308.2L196.3,307.1L195.8,306.6L195.6,305.4L194.4,305.2L195.1,303.7L195.5,301.8L196.3,300.8L197.2,300.1L197.8,298.8Z"/>
<path fill="#ef6548" d="M243.8,318.2L244.6,318.1L245.1,319.6L246.4,324.1L247.6,324.6L247.6,326.4L245.9,328.5L246.6,329.3L250.7,329.7L250.8,332.3L252.5,330.6L255.4,331.6L259.3,333.1L260.4,334.7L260.1,336.1L262.7,335.3L267.2,336.7L270.7,336.6L274.1,338.8L277.1,341.7L278.9,342.4L280.8,342.5L281.7,343.4L282.5,346.7L282.9,348.3L282.1,352.6L281.0,354.3L277.9,357.9L276.5,360.9L274.9,363.1L274.3,363.2L273.8,365.1L274.1,370.0L273.7,374.0L273.6,375.8L272.9,376.8L272.7,380.3L270.6,383.7L270.4,386.4L268.6,387.5L268.2,389.1L265.8,389.1L262.3,390.1L260.8,391.2L258.3,392.0L255.9,394.1L254.2,396.7L254.1,398.6L254.6,400.1L254.5,402.7L254.1,404.0L252.8,405.4L250.9,410.0L249.3,412.1L248.0,413.3L247.4,415.8L246.2,417.3L245.4,415.8L246.1,414.6L244.5,412.8L242.6,411.3L240.1,409.7L239.3,409.7L236.7,407.7L235.3,408.0L237.8,404.4L239.9,401.9L241.3,400.8L243.0,399.4L242.8,397.3L241.5,395.8L240.4,396.3L240.7,394.8L240.9,393.3L240.7,391.8L239.9,391.3L239.1,391.8L238.2,391.7L237.9,390.6L237.4,388.3L236.9,387.5L235.4,386.8L234.5,387.3L232.0,386.8L231.9,383.2L231.1,381.8L231.8,381.2L231.4,379.8L231.9,378.6L232.2,376.5L231.5,374.9L230.2,374.2L229.9,373.2L230.1,371.7L225.7,371.6L224.6,368.5L225.3,368.5L225.2,367.4L224.7,366.6L224.5,365.1L223.1,364.3L221.7,364.3L220.6,363.6L219.1,363.0L218.1,362.1L215.5,361.6L212.9,359.3L213.0,357.6L212.7,356.5L212.8,354.6L209.8,355.0L208.7,356.0L206.7,357.1L206.2,357.8L205.0,357.9L203.3,357.7L202.1,358.1L201.0,357.8L200.9,353.9L199.1,355.4L197.1,355.3L196.2,354.0L194.6,353.8L195.1,352.7L193.7,351.1L192.6,348.7L193.2,348.3L193.2,347.2L194.6,346.4L194.3,345.0L194.8,344.1L195.0,342.9L197.5,341.1L199.4,340.6L199.7,340.2L201.8,340.3L202.7,333.2L202.7,332.0L202.4,330.5L201.3,329.6L201.3,327.7L202.7,327.2L203.1,327.5L203.2,326.5L201.9,326.3L201.8,324.6L206.3,324.7L207.1,323.8L207.7,324.6L208.2,326.1L208.6,325.8L209.8,327.2L211.6,327.0L212.1,326.2L214.8,325.2L215.1,324.1L216.7,323.4L216.6,322.8L214.7,322.6L214.4,320.9L214.5,319.2L213.5,318.5L213.9,318.3L215.6,318.6L217.4,319.3L218.1,318.6L219.8,318.2L222.4,317.2L223.3,316.3L223.0,315.5L224.2,315.4L224.7,316.0L224.4,317.2L225.1,317.6L225.6,318.8L225.0,319.7L224.6,321.9L225.1,323.2L225.3,324.4L226.7,325.7L227.8,325.8L228.1,325.3L228.8,325.2L229.9,324.7L230.6,324.0L231.9,324.2L232.5,324.1L233.7,324.3L233.9,323.8L233.6,323.3L233.8,322.5L234.7,322.8L235.8,322.5L237.1,323.1L238.1,323.6L238.8,322.9L239.4,323.0L239.7,323.7L240.8,323.6L241.7,322.6L242.4,320.6Z"/>
<path fill="#fdbb84" d="M181.0,325.5L183.3,327.0L183.7,326.9L184.3,328.1L186.2,328.4L186.9,328.0L188.0,328.9L189.0,329.5L189.3,331.5L188.6,333.2L186.1,335.9L183.4,336.9L182.1,339.2L181.7,341.0L180.4,342.1L179.4,340.7L178.4,340.5L177.5,340.7L177.4,339.7L178.1,339.1L177.8,338.0L178.9,336.0L178.4,334.9L177.5,336.1L176.1,335.0L176.6,334.2L176.2,331.9L177.0,331.5L177.4,329.8L178.3,328.2L178.1,327.1L179.4,326.5Z"/>
<path fill="#fdbb84" d="M235.2,417.6L235.3,419.0L238.5,421.2L238.6,423.0L240.2,424.2L240.3,425.4L239.0,428.8L236.1,430.2L232.0,430.7L229.6,430.5L230.4,432.0L230.5,433.9L231.2,435.3L230.2,436.2L228.1,436.5L225.8,435.6L225.2,436.2L226.2,438.8L227.9,439.6L228.8,438.8L229.8,440.1L228.1,440.9L226.9,442.6L227.4,445.1L227.3,446.5L225.4,446.5L224.2,447.8L224.2,449.7L226.9,451.6L229.0,452.1L229.1,454.4L227.2,455.9L226.9,458.8L225.5,459.8L225.2,461.0L226.8,463.6L228.8,465.1L227.9,464.9L225.9,464.5L221.0,464.2L219.5,462.7L218.8,460.9L217.5,461.0L216.4,460.1L215.2,457.4L216.3,456.3L216.3,454.7L215.6,453.4L215.9,451.2L215.4,447.8L214.7,446.3L215.4,445.8L214.9,444.9L213.7,444.4L214.1,443.3L212.8,442.3L211.3,439.3L212.0,438.8L210.6,435.7L210.3,433.0L210.2,430.7L211.2,429.7L209.9,427.2L209.3,424.8L210.5,423.1L209.9,420.9L210.5,418.4L210.0,416.0L209.3,415.5L207.3,411.0L208.2,408.3L207.5,405.8L207.9,403.4L208.9,401.0L210.3,399.3L209.5,398.3L209.8,397.5L209.1,393.1L211.4,391.8L211.9,389.1L211.5,388.5L213.2,386.1L216.2,386.8L217.7,388.6L218.4,386.5L221.0,386.6L221.4,387.2L225.9,391.5L227.8,391.8L230.8,393.8L233.2,394.8L233.7,395.9L232.0,399.9L234.3,400.6L236.9,401.0L238.6,400.6L240.4,398.6L240.4,396.3L241.5,395.8L242.8,397.3L243.0,399.4L241.3,400.8L239.9,401.9L237.8,404.4L235.3,408.0L235.1,410.1L235.0,412.8L235.5,415.4L235.1,415.9ZM228.1,465.8L229.3,466.9L231.1,468.8L234.3,470.3L237.2,470.9L236.9,472.1L235.1,472.3L233.8,471.4L232.6,471.3L230.5,471.3Z"/>
<path fill="#fef0d9" d="M383.4,177.2L385.1,180.6L386.9,183.3L387.7,185.7L389.9,185.6L390.8,183.6L393.1,183.9L394.0,181.6L394.2,177.5L396.1,176.9L397.4,174.2L395.6,172.9L394.0,171.2L394.9,167.9L398.0,165.9L400.5,164.0L400.0,162.6L401.4,161.0L404.3,160.4L406.9,161.5L407.3,162.4L406.2,162.9L402.6,165.4L401.3,166.9L400.7,168.2L401.9,170.4L401.8,172.7L403.7,173.5L405.0,174.8L407.9,174.3L411.0,173.4L414.3,173.2L417.5,170.2L418.9,168.8L419.3,167.6L416.3,166.0L416.6,164.5L414.6,162.8L415.3,160.8L412.7,158.3L413.9,156.6L410.9,155.1L410.8,153.5L411.1,152.0L408.7,151.1L406.3,151.9L405.9,153.5L404.5,154.4L402.6,153.9L400.4,154.0L398.3,152.9L397.4,153.4L396.4,153.5L396.4,155.0L393.2,154.6L392.9,155.9L391.3,155.9L390.4,157.5L389.0,160.0L386.7,163.2L387.4,164.0L386.9,164.9L385.1,164.8L384.2,167.0L384.5,170.1L385.8,171.3L385.5,174.1L384.1,175.8Z"/>
<path fill="#fef0d9" d="M403.7,186.1L403.1,184.0L402.8,182.2L403.5,180.7L405.2,179.8L407.0,181.6L408.5,181.6L408.5,179.7L408.5,178.3L407.9,178.6L406.6,177.8L406.2,176.4L408.4,175.7L410.7,175.3L412.7,175.7L414.6,175.7L415.0,176.1L414.0,177.5L415.0,179.7L415.4,180.9L416.6,183.7L418.7,184.3L419.1,184.9L420.0,184.6L422.0,185.2L422.4,186.4L422.2,187.0L423.7,188.6L424.6,189.1L424.6,189.6L426.0,190.0L426.7,190.7L426.0,191.2L424.4,191.1L424.1,191.3L424.7,192.2L425.5,193.8L423.8,193.9L423.3,194.5L423.4,195.7L422.6,195.5L420.8,195.6L420.2,195.0L419.5,195.5L418.7,195.1L417.2,195.1L414.9,194.4L412.8,194.2L411.3,194.3L410.3,195.0L409.4,195.1L409.2,194.0L408.4,192.8L409.5,192.3L409.4,191.3L408.7,190.4L408.5,189.3L407.9,188.5L406.9,188.2L406.6,187.6L406.7,186.9L405.8,186.5Z"/>
<path fill="#fef0d9" d="M378.0,205.1L377.5,205.5L376.6,205.3L376.6,205.9L375.2,207.4L375.2,208.5L376.2,208.1L376.9,209.3L377.8,209.8L378.8,209.7L379.9,208.8L380.3,209.2L381.3,209.1L381.7,208.1L383.2,208.4L384.1,208.0L384.2,207.0L385.4,207.3L385.6,206.8L387.6,206.4L388.2,207.3L391.1,207.9L391.0,209.2L391.6,210.3L391.1,210.5L391.1,211.4L391.7,212.3L392.3,211.2L393.6,211.6L394.3,213.7L396.2,215.6L399.5,217.3L401.5,218.3L403.1,219.6L403.6,219.8L404.0,220.2L403.8,221.0L403.8,222.8L404.0,224.1L405.3,224.9L405.8,225.7L407.2,227.9L408.1,229.1L408.6,230.8L409.6,232.9L411.5,234.0L411.9,231.7L412.5,230.1L414.5,230.8L414.4,229.3L413.2,228.6L411.9,227.4L412.7,226.8L411.5,225.6L410.9,224.0L411.2,223.5L412.5,224.8L413.7,224.8L414.7,224.4L413.1,222.9L415.6,222.2L416.7,222.5L418.0,222.6L418.0,223.1L418.8,224.3L420.4,222.9L423.8,222.2L424.6,221.5L424.0,221.3L422.1,220.5L421.7,219.5L420.9,218.0L421.4,216.2L422.3,215.1L422.5,212.0L424.1,211.7L423.9,211.0L422.9,210.6L422.0,211.0L421.0,210.5L421.5,210.3L421.7,209.4L422.2,208.6L422.0,208.1L422.4,207.9L422.6,208.3L423.9,208.3L424.4,208.2L424.0,207.9L424.0,207.5L423.2,206.9L422.8,205.8L422.0,205.4L422.0,204.5L421.0,203.8L420.1,203.7L418.5,202.9L417.2,203.2L416.8,203.6L415.9,203.6L415.5,204.1L414.0,204.4L413.4,204.8L412.4,204.2L411.1,204.1L409.8,203.9L409.0,204.4L408.7,203.7L407.5,203.1L407.8,202.0L408.3,201.4L406.3,200.4L404.9,200.7L403.9,200.5L402.8,201.0L401.6,200.1L400.8,200.5L400.7,200.3L399.7,199.1L398.2,198.9L397.9,198.1L396.5,197.9L396.3,198.5L395.1,198.0L395.2,197.3L393.7,197.1L392.7,196.3L391.8,196.5L391.3,196.2L390.8,196.7L389.4,197.2L388.7,197.8L387.3,198.4L387.7,199.1L388.0,200.2L389.0,200.8L390.3,201.9L389.6,203.1L388.9,203.4L389.3,205.0L389.2,205.5L388.5,205.0L387.5,204.9L386.1,205.3L384.3,205.2L384.0,205.9L383.0,205.2L382.4,205.3L380.1,204.6L379.8,205.1Z"/>
<path fill="#fef0d9" d="M367.8,196.2L369.4,195.7L370.9,195.9L372.7,195.3L374.0,196.4L375.1,197.0L374.9,198.7L375.3,199.3L375.3,200.4L374.7,200.5L374.2,200.2L372.4,199.1L371.4,199.3L370.0,198.1L369.1,197.1L368.1,197.0Z"/>
<path fill="#fef0d9" d="M379.3,186.7L378.4,185.3L378.2,182.8L378.5,182.1L379.0,181.4L380.6,181.2L381.3,180.6L382.7,179.9L382.8,181.1L382.3,181.9L382.5,182.6L383.6,183.0L383.2,183.9L382.6,183.6L381.4,185.4L381.9,186.6L380.7,187.0ZM386.4,183.8L387.2,185.1L386.2,187.1L384.0,185.7L383.7,184.6Z"/>
<path fill="#fef0d9" d="M350.8,189.4L351.1,191.1L349.5,193.4L345.9,194.9L343.1,194.5L344.9,191.9L344.0,189.3L346.8,187.4L348.3,186.2L348.6,187.6L348.1,188.9L349.4,188.9Z"/>
<path fill="#fef0d9" d="M414.2,235.9L415.5,236.7L417.2,236.6L418.8,236.8L418.8,237.2L419.9,236.9L419.7,237.7L416.6,237.9L416.6,237.5L413.9,237.0Z"/>
<path fill="#fef0d9" d="M434.0,237.3L434.4,236.7L435.9,236.7L437.8,236.0L436.5,237.1L436.8,237.8L434.7,238.8L433.6,238.5L433.0,237.5Z"/>
<path fill="#fdd49e" d="M414.7,152.4L412.5,151.1L414.4,150.5L408.9,148.9L406.0,149.3L403.0,149.3L400.9,151.0L398.2,150.9L394.7,151.9L390.6,154.6L387.9,156.3L384.3,160.7L381.4,163.9L378.1,166.3L373.5,168.2L371.9,169.7L372.7,175.2L373.4,177.8L376.1,179.0L378.5,178.5L382.0,175.7L383.4,177.2L384.1,175.8L385.5,174.1L385.8,171.3L384.5,170.1L384.2,167.0L385.1,164.8L386.9,164.9L387.4,164.0L386.7,163.2L389.0,160.0L390.4,157.5L391.3,155.9L392.9,155.9L393.2,154.6L396.4,155.0L396.4,153.5L397.4,153.4L398.3,152.9L400.4,154.0L402.6,153.9L404.5,154.4L405.9,153.5L406.3,151.9L408.7,151.1L411.1,152.0L410.8,153.5L412.1,153.3ZM384.7,131.9L385.1,131.3L387.2,131.2L389.1,131.8L394.2,133.2L390.8,133.9L390.3,135.3L389.1,135.7L388.7,137.3L386.9,137.4L383.4,136.2L384.7,135.5L382.3,134.9L379.2,133.3L377.9,131.9L381.7,131.3L382.6,131.9ZM402.1,131.2L400.3,132.1L396.2,132.4L391.8,132.0L391.4,131.6L389.4,131.5L387.6,130.7L391.9,130.3L394.1,130.7L395.3,130.2L399.1,130.6ZM399.5,135.3L396.5,136.1L393.7,135.6L394.6,135.1L393.5,134.5L396.5,134.1L397.3,134.8Z"/>
<path fill="#fdbb84" d="M357.2,177.7L355.2,180.3L357.1,180.0L359.2,180.0L358.6,182.0L356.9,184.2L358.8,184.3L360.7,187.5L362.0,187.9L363.2,190.7L363.8,191.7L366.1,192.2L365.9,193.8L364.9,194.5L365.7,195.8L363.9,197.1L361.3,197.1L357.9,197.8L356.9,197.3L355.6,198.5L353.8,198.2L352.3,199.2L351.3,198.6L354.3,196.0L356.1,195.5L353.0,195.1L352.4,194.0L354.5,193.3L353.5,191.9L353.9,190.3L356.8,190.5L357.1,189.1L355.8,187.5L353.5,187.1L353.1,186.4L353.8,185.3L353.2,184.6L352.1,185.8L352.1,183.4L351.2,182.2L352.0,179.7L353.5,177.7L355.0,177.9ZM351.9,187.7L350.8,189.4L349.4,188.9L348.1,188.9L348.6,187.6L348.3,186.2L349.9,186.1Z"/>
<path fill="#fdd49e" d="M358.9,215.9L360.0,214.3L360.4,209.2L358.3,206.5L356.8,205.2L353.7,204.2L353.6,202.4L356.2,201.8L359.6,202.5L359.0,199.6L360.8,200.7L365.5,198.7L366.1,196.7L367.8,196.2L368.1,197.0L369.1,197.1L370.0,198.1L371.4,199.3L372.4,199.1L374.2,200.2L374.7,200.5L375.3,200.4L376.2,201.1L379.2,201.5L378.2,203.3L378.0,205.1L377.5,205.5L376.6,205.3L376.6,205.9L375.2,207.4L375.2,208.5L376.2,208.1L376.9,209.3L376.8,210.0L377.5,210.9L376.8,211.7L377.4,213.7L378.5,214.0L378.3,215.2L376.5,216.6L372.4,215.9L369.3,216.7L369.2,218.3L369.1,218.3L366.7,218.6L364.3,217.5L363.6,218.0L359.7,216.9ZM381.2,217.9L382.5,216.9L382.9,219.1L382.3,221.1L381.4,220.6L380.8,218.8Z"/>
<path fill="#fdbb84" d="M343.8,219.8L344.0,218.0L343.2,216.9L346.2,215.0L348.8,215.5L351.6,215.5L353.8,215.9L355.5,215.8L358.9,215.9L359.7,216.9L363.6,218.0L364.3,217.5L366.7,218.6L369.1,218.3L369.2,218.3L369.2,219.8L367.3,221.5L364.6,222.1L364.4,222.9L363.1,224.4L362.2,226.5L363.1,228.0L361.8,229.1L361.4,230.8L359.7,231.4L358.2,233.4L355.5,233.4L353.4,233.3L352.0,234.3L351.2,235.2L350.1,235.0L349.3,234.1L348.8,232.7L346.8,232.2L346.6,231.4L347.4,230.4L347.8,229.7L347.0,228.9L347.7,227.2L346.9,225.7L347.8,225.5L347.9,224.2L348.3,223.8L348.4,221.8L349.4,221.1L348.8,219.8L347.6,219.7L347.2,220.1L346.0,220.1L345.5,218.8L344.6,219.2Z"/>
<path fill="#fdd49e" d="M343.8,219.8L344.6,219.2L345.5,218.8L346.0,220.1L347.2,220.1L347.6,219.7L348.8,219.8L349.4,221.1L348.4,221.8L348.3,223.8L347.9,224.2L347.8,225.5L346.9,225.7L347.7,227.2L347.0,228.9L347.8,229.7L347.4,230.4L346.6,231.4L346.8,232.2L345.9,232.9L344.8,232.6L343.6,232.8L344.0,230.8L343.9,229.2L342.9,229.0L342.5,228.0L342.7,226.3L343.6,225.3L343.8,224.3L344.3,222.7L344.3,221.6L343.9,220.7Z"/>
<path fill="#fdd49e" d="M376.3,190.3L376.7,189.8L378.3,189.7L378.7,190.2L379.9,189.0L379.4,188.0L379.3,186.7L380.7,187.0L381.9,186.6L382.0,187.6L384.0,188.1L384.1,189.0L386.0,188.5L387.1,187.9L389.3,188.8L390.3,189.6L390.9,190.9L390.4,191.6L391.2,192.5L391.8,193.8L391.7,194.6L392.7,196.3L391.8,196.5L391.3,196.2L390.8,196.7L389.4,197.2L388.7,197.8L387.3,198.4L387.7,199.1L388.0,200.2L389.0,200.8L390.3,201.9L389.6,203.1L388.9,203.4L389.3,205.0L389.2,205.5L388.5,205.0L387.5,204.9L386.1,205.3L384.3,205.2L384.0,205.9L383.0,205.2L382.4,205.3L380.1,204.6L379.8,205.1L378.0,205.1L378.2,203.3L379.2,201.5L376.2,201.1L375.3,200.4L375.3,199.3L374.9,198.7L375.1,197.0L374.7,194.4L375.9,194.4L376.3,193.4L376.7,191.2Z"/>
<path fill="#fdd49e" d="M369.4,195.7L370.4,195.0L372.1,191.3L374.7,190.3L376.3,190.3L376.7,191.2L376.3,193.4L375.9,194.4L374.7,194.4L375.1,197.0L374.0,196.4L372.7,195.3L370.9,195.9Z"/>
<path fill="#fdbb84" d="M390.3,189.6L391.6,188.9L394.5,187.8L396.8,186.9L398.8,187.4L399.0,187.9L400.9,188.0L403.3,188.3L406.9,188.2L407.9,188.5L408.5,189.3L408.7,190.4L409.4,191.3L409.5,192.3L408.4,192.8L409.2,194.0L409.4,195.1L410.7,197.3L410.6,198.0L409.6,198.3L408.1,200.4L408.7,201.5L408.3,201.4L406.3,200.4L404.9,200.7L403.9,200.5L402.8,201.0L401.6,200.1L400.8,200.5L400.7,200.3L399.7,199.1L398.2,198.9L397.9,198.1L396.5,197.9L396.3,198.5L395.1,198.0L395.2,197.3L393.7,197.1L392.7,196.3L391.7,194.6L391.8,193.8L391.2,192.5L390.4,191.6L390.9,190.9Z"/>
<path fill="#fdd49e" d="M424.1,211.7L423.8,210.3L425.3,209.2L425.8,207.7L427.6,207.4L428.5,208.5L431.2,209.0L431.9,209.6L429.8,210.9L430.3,211.7L432.2,211.7L431.9,212.9L433.1,213.4L435.7,211.9L437.9,211.5L438.1,210.6L436.1,210.7L434.9,210.1L434.6,208.5L436.1,207.6L438.0,207.4L439.3,206.6L440.8,206.4L440.7,205.3L441.6,204.6L443.5,204.4L443.7,203.5L442.9,202.1L443.5,200.8L443.3,200.1L440.1,199.2L439.0,199.3L437.5,198.1L436.1,198.5L433.3,197.6L433.3,197.1L432.3,196.0L430.7,195.9L430.4,195.1L430.8,194.6L429.2,193.2L427.3,193.4L426.6,193.3L426.3,193.9L425.5,193.8L423.8,193.9L423.3,194.5L423.4,195.7L422.6,195.5L420.8,195.6L420.2,195.0L419.5,195.5L418.7,195.1L417.2,195.1L414.9,194.4L412.8,194.2L411.3,194.3L410.3,195.0L409.4,195.1L410.7,197.3L410.6,198.0L409.6,198.3L408.1,200.4L408.7,201.5L408.3,201.4L407.8,202.0L407.5,203.1L408.7,203.7L409.0,204.4L409.8,203.9L411.1,204.1L412.4,204.2L413.4,204.8L414.0,204.4L415.5,204.1L415.9,203.6L416.8,203.6L417.2,203.2L418.5,202.9L420.1,203.7L421.0,203.8L422.0,204.5L422.0,205.4L422.8,205.8L423.2,206.9L424.0,207.5L424.0,207.9L424.4,208.2L423.9,208.3L422.6,208.3L422.4,207.9L422.0,208.1L422.2,208.6L421.7,209.4L421.5,210.3L421.0,210.5L422.0,211.0L422.9,210.6L423.9,211.0Z"/>
<path fill="#fdd49e" d="M391.1,210.5L389.9,209.9L388.3,210.8L388.4,212.1L388.2,212.8L389.0,214.1L391.0,215.4L392.2,217.6L394.7,219.6L396.4,219.6L396.9,220.2L396.3,220.7L398.3,221.6L399.9,222.4L401.8,223.8L402.1,224.3L401.8,225.2L400.5,224.0L398.6,223.6L397.8,225.2L399.4,226.2L399.3,227.6L398.4,227.7L397.4,229.9L396.5,230.1L396.5,229.3L396.8,227.9L397.3,227.4L396.3,225.9L395.6,224.6L394.7,224.3L394.0,223.1L392.6,222.7L391.6,221.6L390.1,221.5L388.4,220.3L386.3,218.6L384.8,217.1L384.1,214.6L383.0,214.3L381.3,213.4L380.3,213.8L379.2,215.0L378.3,215.2L378.5,214.0L377.4,213.7L376.8,211.7L377.5,210.9L376.8,210.0L376.9,209.3L377.8,209.8L378.8,209.7L379.9,208.8L380.3,209.2L381.3,209.1L381.7,208.1L383.2,208.4L384.1,208.0L384.2,207.0L385.4,207.3L385.6,206.8L387.6,206.4L388.2,207.3L391.1,207.9L391.0,209.2L391.6,210.3ZM396.1,229.3L395.5,231.4L395.8,232.2L395.5,233.5L393.8,232.5L392.6,232.2L389.6,230.9L389.8,229.6L392.3,229.8L394.5,229.5ZM382.3,221.6L383.6,223.4L383.5,226.8L382.5,226.7L381.7,227.5L380.8,226.9L380.6,223.7L380.1,222.2L381.3,222.4Z"/>
<path fill="#fef0d9" d="M441.2,235.6L440.2,234.4L440.9,233.4L439.6,233.6L437.7,233.0L436.5,234.5L433.2,234.8L431.3,233.4L429.0,233.3L428.6,234.4L427.1,234.7L424.9,233.3L422.5,233.4L421.0,230.8L419.3,229.3L420.1,227.3L418.6,226.1L420.7,223.6L424.0,223.5L424.6,221.5L428.7,221.9L431.0,220.2L433.3,219.5L436.8,219.4L440.8,221.2L444.0,222.2L446.4,221.8L448.2,222.1L450.5,220.7L450.6,219.6L449.7,217.8L448.3,216.9L447.1,216.6L446.2,215.8L446.4,215.5L448.2,216.0L451.4,216.4L454.5,217.6L455.0,218.1L456.2,217.7L458.2,218.2L459.1,219.3L460.5,219.9L461.1,220.0L462.9,221.5L463.9,221.7L464.1,221.0L465.1,220.0L466.5,221.4L468.0,223.2L469.0,223.3L469.8,224.0L468.1,224.2L468.2,226.3L468.0,227.2L467.3,227.8L467.6,229.1L467.1,229.2L465.5,227.8L466.0,226.5L465.2,225.8L464.5,226.0L462.3,227.9L461.5,228.0L460.0,227.6L458.7,226.4L458.2,225.5L456.9,226.2L458.1,229.2L457.8,230.0L459.3,232.1L458.3,232.5L457.5,231.8L454.9,231.5L454.1,231.9L451.7,232.3L450.5,232.3L448.2,233.2L446.4,233.3L445.2,232.8L442.9,233.5L442.1,233.0L442.2,234.4L441.7,235.0Z"/>
<path fill="#fef0d9" d="M441.2,238.7L440.3,240.6L439.8,242.7L439.5,243.4L439.3,245.4L438.8,246.6L438.4,247.6L440.3,252.1L440.4,252.4L442.9,252.9L443.8,252.0L444.2,251.1L445.9,250.8L446.2,249.9L446.8,249.4L444.4,246.8L449.0,245.1L447.7,241.9L443.8,244.7L441.2,243.7L441.4,243.3L441.3,242.2L441.6,240.8L442.7,239.8L442.2,238.8Z"/>
<path fill="#fef0d9" d="M483.8,285.6L482.2,286.3L481.9,287.5L481.9,288.4L479.7,289.5L476.1,290.7L474.1,292.5L473.1,292.7L472.5,292.5L471.2,293.6L469.7,294.1L467.8,294.2L467.3,294.4L466.8,295.1L466.2,295.3L465.9,295.9L464.7,295.9L464.0,296.2L462.4,296.1L461.8,294.6L461.8,293.1L461.4,292.4L460.8,290.5L460.1,289.4L460.6,289.3L460.2,288.1L460.5,287.6L460.3,286.4L461.3,285.6L461.0,284.5L461.5,283.2L462.5,283.9L463.1,283.6L465.7,283.6L466.2,283.9L468.4,284.1L469.2,284.0L469.9,284.8L470.9,284.4L472.3,281.7L474.4,280.5L480.9,279.5L482.9,283.8Z"/>
<path fill="#fef0d9" d="M531.3,218.6L529.9,218.2L528.5,217.3L525.3,217.0L521.8,217.0L521.2,217.2L517.8,216.2L516.8,216.7L517.0,218.2L513.2,217.3L512.0,217.7L511.9,218.8L510.8,219.3L508.6,221.1L508.2,223.0L507.5,223.0L506.5,221.7L503.8,221.7L502.7,219.5L501.7,219.5L501.1,216.9L498.0,215.1L494.5,215.3L492.2,215.6L489.5,213.3L487.5,212.4L483.8,210.5L483.3,210.3L478.5,211.8L481.0,221.3L483.4,221.3L482.7,220.0L484.3,219.1L485.6,217.6L488.8,219.0L489.6,221.0L490.6,221.5L492.8,221.4L493.6,221.9L495.4,224.6L498.3,226.4L500.0,227.6L502.6,228.9L505.7,230.0L506.0,231.6L505.4,231.5L504.2,230.8L504.1,231.7L502.4,232.2L502.4,234.3L501.4,235.1L499.8,235.5L499.6,236.7L498.0,237.0L495.6,236.0L495.4,239.3L495.1,241.2L496.2,241.5L495.5,243.0L496.6,245.1L497.1,246.7L498.8,247.2L499.3,248.8L497.7,251.2L499.0,252.6L500.2,254.2L502.5,255.3L502.9,257.6L504.0,258.0L504.3,259.2L501.3,260.6L500.8,263.6L504.0,263.2L507.6,263.2L511.6,262.7L513.7,264.7L514.5,266.6L516.3,267.2L517.6,265.5L522.5,265.5L521.7,263.2L520.3,261.9L519.8,259.9L518.1,258.8L520.1,256.0L522.8,256.2L524.6,253.5L525.5,250.8L527.1,248.2L526.7,246.4L528.2,244.8L526.1,243.6L525.0,241.8L523.6,239.5L524.4,238.4L527.9,239.0L530.2,238.6L531.8,236.4L527.9,235.4L526.7,233.4L524.8,232.2L524.2,231.4L523.5,229.9L523.2,228.9L521.8,228.3L521.1,228.6L519.9,226.2L520.3,225.6L519.9,225.0L521.5,223.7L522.8,223.2L525.2,223.6L525.4,221.9L528.0,221.6L528.4,220.6L531.2,219.2Z"/>
<path fill="#fef0d9" d="M596.6,199.3L594.3,199.5L592.8,198.7L591.4,198.4L589.6,200.2L587.2,200.6L585.7,201.3L582.9,200.8L581.1,200.9L579.1,199.6L576.4,198.4L574.2,198.0L571.9,198.3L570.3,198.8L566.8,197.8L565.3,195.9L562.6,195.2L560.6,195.0L557.8,193.9L557.3,196.5L558.9,198.0L557.9,199.7L554.7,199.1L552.6,199.0L550.7,197.8L548.6,197.8L546.4,197.0L544.0,198.2L541.3,200.4L539.4,200.8L540.7,202.6L543.0,203.9L546.4,204.9L548.7,207.0L549.3,209.9L550.5,211.0L553.2,211.5L556.1,211.8L559.3,213.5L560.8,213.7L562.8,216.1L564.7,217.6L567.0,217.6L571.6,218.2L574.2,217.8L576.4,218.2L580.2,219.8L582.8,219.8L584.1,220.6L585.9,219.2L588.9,218.3L591.9,218.2L593.9,217.3L594.7,215.9L595.7,215.0L595.0,214.2L593.8,213.2L594.0,211.5L595.3,211.8L597.6,212.3L599.0,210.9L601.6,209.9L602.1,208.2L603.1,207.5L605.9,207.2L607.7,207.5L607.3,206.5L604.4,204.8L602.3,203.9L601.3,204.9L599.1,204.5L598.1,204.8L597.0,203.8L596.8,201.3Z"/>
<path fill="#fef0d9" d="M637.6,219.0L636.3,219.7L636.2,220.6L637.3,222.4L636.5,223.0L636.4,223.4L636.0,224.2L634.8,224.6L634.3,225.3L634.8,226.5L634.7,226.7L635.7,227.2L637.5,228.3L640.9,231.4L642.2,233.1L643.6,236.1L643.4,237.5L641.7,238.0L640.4,239.1L638.6,239.3L637.7,237.9L637.3,235.9L635.1,233.2L636.5,232.8L634.0,230.5L632.7,230.1L632.7,230.5L632.1,230.8L631.8,230.3L631.2,230.0L630.4,229.6L630.4,228.5L630.8,228.2L630.3,227.7L630.2,226.3L629.8,225.9L628.5,225.6L627.1,224.9L628.0,223.2L629.5,221.8L630.0,220.0L631.4,220.8L633.3,220.9L632.2,219.5L634.8,218.4L634.7,217.0L637.0,218.5Z"/>
<path fill="#fef0d9" d="M559.2,256.3L556.5,256.1L553.9,255.5L551.9,254.3L550.0,253.8L549.0,252.5L547.7,252.2L545.1,250.5L543.1,249.7L542.3,250.3L541.2,251.5L540.8,253.9L543.2,254.9L545.5,256.2L548.7,257.7L551.9,258.0L553.4,259.3L555.1,259.6L558.0,260.2L559.8,260.1L559.9,259.1L559.2,257.4Z"/>
<path fill="#fef0d9" d="M567.2,256.6L564.9,255.8L563.2,255.2L562.1,255.9L561.0,257.8L561.2,258.3L563.4,259.3L564.7,258.9L566.7,259.1L568.5,259.0L568.3,257.4Z"/>
<path fill="#fef0d9" d="M563.6,272.5L563.8,271.5L563.2,269.4L562.1,267.4L562.2,265.8L560.7,265.1L561.1,264.2L562.3,263.2L560.5,261.8L560.9,260.0L562.9,261.2L564.0,261.3L564.5,263.1L566.7,263.5L568.8,263.4L570.2,263.9L569.5,266.1L568.5,266.3L568.1,267.7L569.5,269.1L569.6,267.4L570.3,267.4L572.0,271.6L572.3,273.4L571.4,273.0L571.9,275.1L571.0,273.8L570.7,272.4L570.1,271.2L569.0,269.6L566.9,269.5L567.2,270.6L566.7,272.1L565.7,271.6L565.4,272.0L564.7,271.7Z"/>
<path fill="#fef0d9" d="M551.0,309.5L550.7,312.2L549.8,312.9L547.8,313.5L546.6,311.4L546.1,307.7L546.9,303.5L548.6,304.9L549.7,306.7Z"/>
<path fill="#fef0d9" d="M579.5,255.3L579.9,256.3L579.2,256.8L579.7,258.4L578.0,257.9L575.5,259.7L575.9,261.2L575.1,263.4L575.2,264.7L574.6,266.8L572.7,266.2L573.1,268.9L572.7,269.8L573.1,270.9L572.0,271.6L572.3,273.4L571.4,273.0L571.9,275.1L572.5,276.4L575.0,278.5L575.1,277.6L577.2,281.6L578.0,284.0L577.6,287.2L579.1,287.8L580.4,288.1L582.8,286.2L584.1,284.9L585.4,287.1L586.2,290.4L587.2,293.5L588.3,294.8L588.4,297.7L589.3,299.2L589.1,303.2L588.5,307.3L589.0,308.8L589.3,307.2L590.5,308.4L591.8,309.9L592.2,311.2L593.2,312.2L593.6,311.8L595.5,312.9L595.7,314.2L597.3,313.9L598.0,312.9L596.7,311.5L595.3,311.2L593.9,309.7L593.4,307.4L592.3,305.1L590.8,305.0L590.5,303.1L591.1,300.8L591.1,298.1L592.0,297.0L591.9,294.1L593.9,294.1L593.8,296.1L595.7,296.1L597.9,297.3L599.3,300.0L600.3,301.3L602.3,301.7L604.2,300.7L606.6,300.5L605.4,298.9L609.1,296.9L609.0,293.7L608.3,292.0L608.4,289.4L607.6,287.6L605.6,285.8L603.8,283.4L601.5,280.4L598.5,278.8L599.0,277.9L600.4,277.2L599.1,274.9L596.3,274.9L595.0,272.5L593.3,270.5L592.2,270.8L593.0,273.8L591.8,273.7L591.5,273.1L591.3,272.0L589.7,272.8L588.7,272.3L586.8,271.3L587.2,269.2L585.7,268.7L584.7,266.3L582.4,266.7L582.1,263.6L583.8,261.4L583.4,259.3L582.9,257.3L581.8,256.6L580.7,255.1Z"/>
<path fill="#fef0d9" d="M636.5,265.4L636.0,269.6L635.5,271.7L633.9,269.5L633.2,267.6L634.0,265.0L635.3,263.0L636.5,263.8Z"/>
<path fill="#fef0d9" d="M638.4,280.8L639.9,281.5L640.5,280.8L640.8,281.5L640.6,282.6L641.8,284.5L641.5,286.6L640.3,287.5L640.3,289.6L641.1,291.7L642.3,292.0L643.3,291.7L646.3,293.1L646.3,294.5L647.1,295.2L647.0,296.4L645.1,295.1L644.1,293.7L643.6,294.7L641.9,293.1L639.9,293.5L638.7,292.9L638.7,291.8L639.3,291.2L638.5,290.6L638.4,291.5L637.0,290.0L636.5,288.9L636.1,286.4L637.1,287.2L636.7,283.1L637.0,280.8ZM653.4,307.1L653.7,308.9L654.0,310.3L653.3,312.7L652.3,310.1L651.3,311.4L652.2,313.3L651.6,314.5L648.8,313.0L648.0,311.1L648.6,309.9L647.1,308.7L646.5,309.7L645.4,309.6L643.8,311.1L643.3,310.3L644.1,308.1L645.5,307.4L646.7,306.4L647.6,307.6L649.3,306.9L649.5,305.7L651.2,305.6L650.8,303.6L652.8,304.8L653.1,306.2ZM636.9,299.4L637.5,301.6L636.1,303.0L635.1,304.8L632.2,307.2L633.2,305.4L634.7,303.8L635.9,302.0ZM650.4,297.3L651.4,300.2L649.5,299.6L649.7,300.4L650.4,302.0L649.3,302.6L649.1,300.8L648.4,300.7L647.8,299.1L649.2,299.3L649.1,298.3L647.5,296.3L649.7,296.4ZM645.1,298.9L645.2,299.9L644.2,301.1L642.8,301.8L642.7,300.6L642.7,299.3L642.2,298.1L643.6,298.9ZM647.4,302.3L646.7,303.1L646.1,304.8L645.4,305.5L643.9,303.7L644.3,303.0L644.8,302.3L644.9,300.7L646.2,300.5L646.0,302.3L647.4,299.8ZM641.0,295.0L640.7,297.2L639.5,295.9L638.1,293.9L640.1,294.0Z"/>
<path fill="#fef0d9" d="M665.7,226.8L665.2,229.5L666.6,232.1L666.9,234.2L667.9,235.5L667.6,237.3L665.4,238.6L661.7,238.7L659.9,241.7L658.0,240.7L657.0,238.8L653.5,239.3L651.5,240.6L648.9,240.6L652.0,242.5L652.3,247.0L651.3,248.1L649.8,247.1L649.4,244.7L647.7,244.0L646.1,242.1L647.9,241.4L648.3,239.7L649.9,238.4L650.7,236.6L654.7,235.8L657.2,236.3L657.2,231.7L659.3,232.9L661.1,230.3L661.8,229.3L661.4,226.2L659.3,223.2L659.2,221.6L661.2,221.1L664.5,224.7ZM661.8,213.9L663.6,214.5L664.4,213.4L666.8,216.3L664.2,217.0L664.0,219.5L659.6,217.8L660.2,220.6L657.9,220.6L656.0,218.1L655.8,216.1L657.9,215.9L656.1,212.4L655.3,210.4L659.6,213.0ZM656.6,239.9L657.3,240.8L656.7,242.4L655.5,241.6L654.6,242.2L654.7,243.7L652.9,243.0L652.4,241.7L653.0,240.2L654.3,240.5L654.7,239.4Z"/>
<path fill="#fef0d9" d="M625.9,317.3L626.8,316.3L628.7,314.9L628.7,316.1L628.6,317.8L627.5,317.7L627.1,318.6Z"/>
<path fill="#fef0d9" d="M650.0,352.3L650.4,351.7L652.4,351.1L654.0,351.0L654.7,350.7L655.6,351.0L654.7,351.7L652.2,352.9L650.2,353.6L650.2,352.8Z"/>
<path fill="#990000" d="M414.7,152.4L416.2,151.7L419.3,153.0L424.0,153.5L431.2,156.0L432.9,157.1L433.5,158.6L432.0,159.8L429.4,160.4L421.2,158.7L420.0,159.0L423.3,160.6L423.7,161.7L424.4,164.0L426.9,164.7L428.5,165.3L428.4,164.2L427.0,163.2L427.9,162.4L432.6,163.8L433.9,163.2L432.1,161.5L435.4,159.3L437.1,159.4L439.0,160.2L439.4,158.7L437.5,157.3L437.8,156.0L436.1,154.6L441.1,155.3L442.5,156.6L440.5,156.9L441.0,158.1L442.6,158.9L445.1,158.4L444.9,157.0L448.1,155.9L453.1,154.0L454.4,154.1L453.4,155.4L455.6,155.7L456.4,154.9L459.6,154.8L461.6,153.9L464.2,155.3L465.4,153.8L462.9,152.5L463.4,151.8L468.7,152.5L471.4,153.2L478.9,155.7L479.4,154.5L477.0,153.4L476.6,152.9L474.5,152.7L474.4,151.6L472.5,149.9L472.0,149.3L473.8,147.3L473.5,145.4L474.4,145.0L479.0,145.5L480.2,146.7L479.9,148.4L481.4,149.1L482.9,150.6L484.5,153.6L487.2,155.0L487.4,156.5L486.0,159.7L488.2,160.0L488.4,159.2L489.9,158.6L489.7,157.5L490.5,156.4L488.7,155.2L488.5,153.7L486.6,153.5L485.4,152.3L485.2,150.1L481.9,148.4L483.8,146.9L482.3,145.4L483.1,145.4L484.8,146.5L485.6,148.6L487.6,149.0L485.8,147.5L487.9,146.6L491.1,146.5L495.0,147.7L492.2,145.9L490.2,143.7L492.6,143.3L496.5,143.4L499.7,143.1L497.4,142.0L498.0,140.7L499.7,140.7L501.7,139.6L505.5,139.4L505.3,138.8L509.2,138.6L510.9,139.1L513.1,138.0L515.9,138.1L515.3,137.2L515.7,136.3L518.2,135.5L521.6,136.2L520.2,136.7L524.0,137.0L525.7,138.0L526.4,137.5L530.9,137.5L535.6,138.5L537.8,139.2L538.8,140.3L537.9,140.9L535.2,142.0L534.7,142.6L537.0,142.9L539.9,143.4L540.9,143.0L543.2,144.3L543.3,143.8L545.5,143.5L551.0,143.8L552.5,144.8L559.6,145.1L557.7,143.5L561.5,143.9L564.0,143.9L568.0,145.0L570.5,146.3L570.6,147.2L574.8,148.9L578.4,149.8L577.1,147.5L581.0,148.5L583.0,147.9L587.0,148.6L587.4,148.0L590.5,148.3L586.6,146.3L587.5,145.4L604.0,146.7L607.2,148.0L613.8,149.7L619.8,149.3L623.6,149.6L626.3,150.5L628.5,152.1L631.4,152.7L633.0,152.3L635.8,152.2L639.6,152.6L642.4,152.4L648.3,154.4L649.3,153.7L645.8,152.2L645.0,151.3L651.3,151.9L654.5,151.7L661.0,152.8L664.9,153.8L678.3,162.7L677.5,163.8L675.0,163.6L678.3,164.8L682.1,166.7L683.8,167.4L685.3,168.3L685.7,169.0L681.6,168.4L679.0,170.2L677.7,170.5L677.1,172.2L676.3,173.6L677.0,174.7L672.3,173.1L669.8,174.9L667.9,174.0L667.3,175.1L664.5,174.7L665.7,176.3L666.2,178.6L667.4,179.6L670.1,180.2L673.8,183.7L672.2,183.8L673.5,185.9L675.4,186.9L673.4,188.2L675.6,191.0L673.3,191.6L675.1,194.2L674.4,196.5L672.1,194.8L667.8,191.1L661.3,185.6L658.6,182.2L658.7,180.8L657.5,179.6L659.8,179.1L659.8,176.1L660.1,173.6L661.1,171.7L658.4,168.4L656.4,168.6L657.8,170.5L656.3,173.1L651.3,170.2L647.6,171.0L647.6,175.0L650.7,176.5L647.3,177.1L644.7,177.3L642.9,175.6L639.6,175.2L638.6,176.4L632.5,176.0L627.1,176.7L625.7,181.4L623.7,187.2L627.0,187.6L629.3,189.1L631.6,189.6L631.8,188.4L634.1,188.6L639.3,191.3L641.2,193.4L641.8,195.9L644.0,198.9L646.2,203.0L645.8,206.7L646.3,208.4L645.5,211.4L644.7,214.4L644.3,215.9L642.5,217.4L641.1,217.5L639.1,216.2L637.4,218.1L637.6,219.0L637.0,218.5L636.2,217.2L637.2,217.1L635.7,214.1L633.8,211.9L634.9,211.0L637.8,211.4L637.5,208.9L636.3,206.1L636.5,205.2L636.0,202.9L633.1,203.7L632.1,204.7L629.0,204.7L626.5,202.3L622.9,200.5L618.8,199.7L616.3,197.2L614.5,195.7L612.9,194.6L609.8,192.0L607.3,191.1L603.8,190.4L601.3,190.5L599.2,190.9L598.5,192.1L600.1,192.7L601.1,194.1L600.6,194.9L600.6,197.6L601.4,198.7L599.6,200.3L596.6,199.3L594.3,199.5L592.8,198.7L591.4,198.4L589.6,200.2L587.2,200.6L585.7,201.3L582.9,200.8L581.1,200.9L579.1,199.6L576.4,198.4L574.2,198.0L571.9,198.3L570.3,198.8L566.8,197.8L565.3,195.9L562.6,195.2L560.6,195.0L557.8,193.9L557.3,196.5L558.9,198.0L557.9,199.7L554.7,199.1L552.6,199.0L550.7,197.8L548.6,197.8L546.4,197.0L544.0,198.2L541.3,200.4L539.4,200.8L538.7,201.0L536.9,199.5L534.5,199.8L533.1,198.7L531.5,198.3L529.8,196.8L528.5,196.4L525.9,197.0L522.5,195.6L522.1,196.9L514.6,190.5L511.2,188.6L511.6,187.8L507.8,190.2L506.0,190.3L505.5,188.9L502.6,188.1L500.9,188.7L499.1,186.1L495.4,185.6L494.2,186.6L489.7,187.6L489.1,188.2L482.1,189.0L481.6,189.9L483.6,191.6L482.0,192.2L482.6,192.9L481.2,194.1L485.0,195.9L484.9,197.0L482.1,196.9L481.8,197.7L478.8,196.4L475.7,196.4L473.9,197.5L471.2,196.5L466.3,194.7L463.2,194.8L459.9,197.5L460.2,199.4L457.7,197.9L456.8,200.7L457.6,201.2L456.9,203.1L459.0,204.8L460.5,204.8L462.2,206.5L462.3,207.8L463.5,208.2L462.9,209.7L461.0,210.2L459.6,212.8L462.0,215.2L462.2,217.0L465.1,220.0L464.1,221.0L463.9,221.7L462.9,221.5L461.1,220.0L460.5,219.9L459.1,219.3L458.2,218.2L456.2,217.7L455.0,218.1L454.5,217.6L451.4,216.4L448.2,216.0L446.4,215.5L446.2,215.8L443.1,213.6L440.6,212.7L438.6,211.2L440.0,210.8L441.3,208.6L439.9,207.6L442.8,206.6L442.6,206.0L440.8,206.4L440.7,205.3L441.6,204.6L443.5,204.4L443.7,203.5L442.9,202.1L443.5,200.8L443.3,200.1L440.1,199.2L439.0,199.3L437.5,198.1L436.1,198.5L433.3,197.6L433.3,197.1L432.3,196.0L430.7,195.9L430.4,195.1L430.8,194.6L429.2,193.2L427.3,193.4L426.6,193.3L426.3,193.9L425.5,193.8L424.7,192.2L424.1,191.3L424.4,191.1L426.0,191.2L426.7,190.7L426.0,190.0L424.6,189.6L424.6,189.1L423.7,188.6L422.2,187.0L422.4,186.4L422.0,185.2L420.0,184.6L419.1,184.9L418.7,184.3L416.6,183.7L415.4,180.9L415.0,179.7L414.0,177.5L415.0,176.1L414.6,175.7L416.5,174.3L414.3,173.2L417.5,170.2L418.9,168.8L419.3,167.6L416.3,166.0L416.6,164.5L414.6,162.8L415.3,160.8L412.7,158.3L413.9,156.6L410.9,155.1L410.8,153.5L412.1,153.3ZM446.0,147.2L447.5,146.7L446.8,145.5L449.0,143.7L447.4,143.5L450.1,141.7L449.1,140.8L451.9,139.7L456.0,138.4L460.8,138.0L462.8,137.3L465.6,137.0L467.3,137.8L466.8,138.5L462.1,139.4L458.1,140.4L454.5,142.3L453.4,144.4L452.0,146.4L453.3,148.2L457.4,149.9L456.5,150.1L451.0,149.8L450.1,148.9L446.8,148.3ZM648.9,197.2L654.5,201.6L650.8,200.8L652.4,204.5L656.2,207.1L657.5,208.9L654.8,207.3L654.8,209.3L653.0,207.2L651.4,204.7L649.1,201.9L648.1,200.0L645.5,196.7L642.3,194.2L639.5,190.8L640.3,189.6L638.5,188.5L639.0,188.1L641.0,189.8L643.8,192.2L645.9,194.6ZM658.2,149.7L656.6,149.8L655.1,149.1L655.7,148.2ZM70.0,148.2L73.0,148.7L72.4,149.0L69.8,149.6L67.5,149.7ZM60.8,153.8L62.3,155.4L63.5,157.7L61.3,159.1L61.7,159.6L63.6,158.0L67.8,158.3L68.2,160.4L65.1,161.5L61.9,161.7L58.7,163.9L57.4,164.4L55.8,164.3L55.6,163.5L54.2,162.9L55.2,161.9L54.0,161.5L51.6,161.8L51.8,161.0L53.4,160.2L50.5,160.7L49.7,161.8L47.4,162.7ZM508.7,133.3L505.8,133.5L501.1,133.0L497.8,132.3L495.2,131.0L492.8,130.7L495.0,129.5L497.5,129.2L501.4,130.0L506.9,131.7ZM517.7,134.4L510.3,135.1L509.8,132.7L510.7,132.4L512.0,132.6L517.1,133.6ZM574.7,138.6L578.9,138.7L586.3,139.8L587.5,141.3L581.7,141.2L579.8,141.7L574.7,140.4L573.4,139.0ZM588.4,139.9L591.8,140.2L596.6,140.8L596.1,141.6L593.4,141.4L589.2,140.6ZM587.0,143.3L585.4,144.4L585.0,144.3L585.3,143.5ZM590.4,144.1L591.4,144.6L589.0,144.6L585.4,144.4L587.0,143.3ZM430.0,130.9L434.5,131.3L435.8,130.1L432.5,131.0L431.8,130.4L432.3,130.0L430.1,129.8L428.8,130.3L426.5,130.3ZM400.9,188.0L401.2,186.9L403.7,186.1L405.8,186.5L406.7,186.9L406.6,187.6L406.9,188.2L403.3,188.3Z"/>
<path fill="#ef6548" d="M473.4,220.1L473.1,219.4L473.4,218.4L472.8,217.5L470.1,216.6L468.6,214.3L467.3,213.6L467.1,212.8L469.2,213.0L468.8,211.2L470.4,210.7L472.3,211.1L472.0,208.6L471.3,207.1L469.2,207.2L467.3,206.5L465.3,207.7L463.5,208.2L462.3,207.8L462.2,206.5L460.5,204.8L459.0,204.8L456.9,203.1L457.6,201.2L456.8,200.7L457.7,197.9L460.2,199.4L459.9,197.5L463.2,194.8L466.3,194.7L471.2,196.5L473.9,197.5L475.7,196.4L478.8,196.4L481.8,197.7L482.1,196.9L484.9,197.0L485.0,195.9L481.2,194.1L482.6,192.9L482.0,192.2L483.6,191.6L481.6,189.9L482.1,189.0L489.1,188.2L489.7,187.6L494.2,186.6L495.4,185.6L499.1,186.1L500.9,188.7L502.6,188.1L505.5,188.9L506.0,190.3L507.8,190.2L511.6,187.8L511.2,188.6L514.6,190.5L522.1,196.9L522.5,195.6L525.9,197.0L528.5,196.4L529.8,196.8L531.5,198.3L533.1,198.7L534.5,199.8L536.9,199.5L538.7,201.0L537.9,202.7L536.4,203.0L537.4,205.5L536.7,206.7L532.3,205.8L532.7,210.4L531.9,211.0L528.2,212.0L531.8,216.5L530.6,217.1L531.3,218.6L529.9,218.2L528.5,217.3L525.3,217.0L521.8,217.0L521.2,217.2L517.8,216.2L516.8,216.7L517.0,218.2L513.2,217.3L512.0,217.7L511.9,218.8L510.8,219.3L508.6,221.1L508.2,223.0L507.5,223.0L506.5,221.7L503.8,221.7L502.7,219.5L501.7,219.5L501.1,216.9L498.0,215.1L494.5,215.3L492.2,215.6L489.5,213.3L487.5,212.4L483.8,210.5L483.3,210.3L478.5,211.8L481.0,221.3L480.0,221.4L478.0,219.4L476.4,218.7Z"/>
<path fill="#fdbb84" d="M479.0,232.0L478.2,230.1L478.0,227.4L476.1,226.5L476.3,224.8L474.8,224.6L474.8,222.4L477.0,223.1L478.6,222.2L476.7,220.7L475.8,219.2L474.2,219.9L474.4,221.7L473.4,220.1L476.4,218.7L478.0,219.4L480.0,221.4L481.0,221.3L483.4,221.3L482.7,220.0L484.3,219.1L485.6,217.6L488.8,219.0L489.6,221.0L490.6,221.5L492.8,221.4L493.6,221.9L495.4,224.6L498.3,226.4L500.0,227.6L502.6,228.9L505.7,230.0L506.0,231.6L505.4,231.5L504.2,230.8L504.1,231.7L502.4,232.2L502.4,234.3L501.4,235.1L499.8,235.5L499.6,236.7L498.0,237.0L495.6,236.0L494.9,233.8L493.3,233.7L490.3,231.4L488.5,231.1L485.9,229.8L484.3,229.6L483.5,230.1L482.0,230.0L480.8,231.5Z"/>
<path fill="#990000" d="M467.6,229.1L468.6,231.0L470.8,231.5L472.5,232.8L475.7,233.3L478.9,232.6L479.0,232.0L480.8,231.5L482.0,230.0L483.5,230.1L484.3,229.6L485.9,229.8L488.5,231.1L490.3,231.4L493.3,233.7L494.9,233.8L495.6,236.0L495.4,239.3L495.1,241.2L496.2,241.5L495.5,243.0L496.6,245.1L497.1,246.7L498.8,247.2L499.3,248.8L497.7,251.2L499.0,252.6L500.2,254.2L502.5,255.3L502.9,257.6L504.0,258.0L504.3,259.2L501.3,260.6L500.8,263.6L496.5,262.8L494.0,262.2L491.4,261.9L490.1,258.7L489.0,258.2L487.3,258.7L485.2,260.0L482.4,259.1L479.9,257.1L477.6,256.3L475.8,253.9L473.8,250.4L472.6,250.8L471.1,249.9L470.4,251.0L469.0,249.6L468.8,248.2L468.1,248.2L468.2,246.3L466.8,244.3L463.9,242.9L462.0,240.4L462.2,238.4L463.2,237.5L462.8,235.9L461.2,235.2L459.3,232.1L457.8,230.0L458.1,229.2L456.9,226.2L458.2,225.5L458.7,226.4L460.0,227.6L461.5,228.0L462.3,227.9L464.5,226.0L465.2,225.8L466.0,226.5L465.5,227.8L467.1,229.2Z"/>
<path fill="#d7301f" d="M447.7,241.9L449.0,245.1L451.7,245.8L455.2,247.7L462.1,252.9L466.2,253.1L467.6,250.6L469.1,250.8L470.4,251.0L469.0,249.6L468.8,248.2L468.1,248.2L468.2,246.3L466.8,244.3L463.9,242.9L462.0,240.4L462.2,238.4L463.2,237.5L462.8,235.9L461.2,235.2L459.3,232.1L458.3,232.5L457.5,231.8L454.9,231.5L454.1,231.9L453.2,233.5L452.1,234.2L452.6,236.1L452.2,239.2Z"/>
<path fill="#fdbb84" d="M441.2,235.6L440.8,236.6L441.2,238.7L442.2,238.8L442.7,239.8L441.6,240.8L441.3,242.2L441.4,243.3L441.2,243.7L443.8,244.7L447.7,241.9L452.2,239.2L452.6,236.1L452.1,234.2L453.2,233.5L454.1,231.9L451.7,232.3L450.5,232.3L448.2,233.2L446.4,233.3L445.2,232.8L442.9,233.5L442.1,233.0L442.2,234.4L441.7,235.0Z"/>
<path fill="#fdbb84" d="M466.2,253.1L467.6,250.6L469.1,250.8L469.7,252.0L469.6,252.6L470.5,254.6L469.0,254.6L468.3,253.4Z"/>
<path fill="#fc8d59" d="M449.0,245.1L444.4,246.8L446.8,249.4L446.2,249.9L445.9,250.8L444.2,251.1L443.8,252.0L442.9,252.9L440.4,252.4L440.2,253.5L440.0,255.8L441.1,255.8L442.4,257.6L443.9,259.7L444.9,261.7L446.2,264.2L447.1,265.7L448.3,266.2L449.5,267.2L451.1,270.1L450.9,271.7L451.2,273.5L453.0,276.0L454.0,276.4L455.7,278.2L456.4,280.4L457.8,282.5L459.0,283.5L459.3,284.5L460.0,285.3L460.3,286.4L461.3,285.6L461.0,284.5L461.5,283.2L462.5,283.9L463.1,283.6L465.7,283.6L466.2,283.9L468.4,284.1L469.2,284.0L469.9,284.8L470.9,284.4L472.3,281.7L474.4,280.5L480.9,279.5L487.4,276.9L488.5,271.7L487.3,269.8L486.9,270.4L480.0,269.0L478.9,266.4L478.8,265.8L478.3,264.8L477.7,265.0L476.9,264.5L476.5,263.8L475.4,262.2L475.1,261.4L475.2,260.5L474.9,259.4L473.3,258.3L472.8,257.4L471.7,256.8L470.5,254.6L469.0,254.6L468.3,253.4L466.2,253.1L462.1,252.9L455.2,247.7L451.7,245.8Z"/>
<path fill="#fdd49e" d="M478.3,264.8L477.7,265.0L476.9,264.5L476.6,262.6L477.1,261.2L477.6,260.9L478.4,261.7L478.6,263.2Z"/>
<path fill="#fdbb84" d="M478.8,265.8L479.2,265.7L479.3,266.4L481.1,266.0L482.9,266.0L484.3,266.1L485.6,264.3L487.1,262.7L488.4,261.1L488.9,262.0L489.4,264.0L488.3,264.0L488.3,265.7L488.7,266.1L487.8,266.6L487.9,267.7L487.3,268.8L487.3,269.8L486.9,270.4L480.0,269.0L478.9,266.4Z"/>
<path fill="#fdbb84" d="M489.4,264.0L490.6,265.8L492.0,266.7L493.7,267.1L495.0,267.6L496.2,269.1L496.9,269.9L497.7,270.3L497.8,270.8L497.1,272.4L496.8,273.1L495.9,274.0L495.3,275.8L494.2,275.6L493.8,276.3L493.6,277.6L494.0,279.3L493.8,279.6L492.7,279.6L491.4,280.6L491.3,281.9L490.8,282.4L489.4,282.4L488.6,283.1L488.6,284.1L487.6,284.8L486.3,284.6L484.9,285.5L483.8,285.6L482.9,283.8L480.9,279.5L487.4,276.9L488.5,271.7L487.3,269.8L487.3,268.8L487.9,267.7L487.8,266.6L488.7,266.1L488.3,265.7L488.3,264.0ZM488.9,262.0L488.4,261.1L488.9,260.2L489.2,260.4L489.1,261.5Z"/>
<path fill="#fdbb84" d="M627.1,224.9L624.5,225.6L623.5,226.9L621.6,227.6L622.1,226.4L621.2,225.3L622.0,223.6L620.2,222.2L618.8,223.2L617.3,225.0L616.8,226.6L614.8,226.8L614.2,228.0L616.2,229.7L618.1,230.2L618.7,231.3L620.7,232.1L622.3,230.2L624.7,231.2L626.1,231.3L627.1,232.7L624.3,233.4L624.0,234.8L622.4,236.1L622.0,237.9L624.9,239.4L626.8,241.9L629.0,244.3L631.3,246.4L631.9,248.3L630.8,249.0L631.8,250.4L633.3,251.2L633.7,253.3L633.7,255.4L632.5,255.6L631.7,258.5L630.8,261.9L629.4,265.0L626.8,267.4L624.1,269.6L621.6,269.9L620.5,271.1L619.5,270.2L618.5,271.5L615.5,272.8L613.2,273.2L612.9,276.0L611.7,276.1L610.8,274.2L611.1,273.2L608.0,272.4L607.0,272.8L604.6,272.2L603.3,271.1L603.5,269.6L601.3,269.1L600.1,268.1L598.4,269.5L596.2,269.8L594.4,269.8L593.3,270.5L592.2,270.8L593.0,273.8L591.8,273.7L591.5,273.1L591.3,272.0L589.7,272.8L588.7,272.3L586.8,271.3L587.2,269.2L585.7,268.7L584.7,266.3L582.4,266.7L582.1,263.6L583.8,261.4L583.4,259.3L582.9,257.3L581.8,256.6L580.7,255.1L579.5,255.3L576.0,252.2L574.7,253.3L572.7,252.6L570.5,254.3L568.9,256.3L567.2,256.6L564.9,255.8L563.2,255.2L562.1,255.9L561.0,257.8L560.4,255.8L559.2,256.3L556.5,256.1L553.9,255.5L551.9,254.3L550.0,253.8L549.0,252.5L547.7,252.2L545.1,250.5L543.1,249.7L542.3,250.3L538.9,248.5L536.3,246.8L535.0,243.9L536.7,244.3L536.4,243.0L535.2,241.6L534.9,239.5L531.8,236.4L527.9,235.4L526.7,233.4L524.8,232.2L524.2,231.4L523.5,229.9L523.2,228.9L521.8,228.3L521.1,228.6L519.9,226.2L520.3,225.6L519.9,225.0L521.5,223.7L522.8,223.2L525.2,223.6L525.4,221.9L528.0,221.6L528.4,220.6L531.2,219.2L531.3,218.6L530.6,217.1L531.8,216.5L528.2,212.0L531.9,211.0L532.7,210.4L532.3,205.8L536.7,206.7L537.4,205.5L536.4,203.0L537.9,202.7L538.7,201.0L539.4,200.8L540.7,202.6L543.0,203.9L546.4,204.9L548.7,207.0L549.3,209.9L550.5,211.0L553.2,211.5L556.1,211.8L559.3,213.5L560.8,213.7L562.8,216.1L564.7,217.6L567.0,217.6L571.6,218.2L574.2,217.8L576.4,218.2L580.2,219.8L582.8,219.8L584.1,220.6L585.9,219.2L588.9,218.3L591.9,218.2L593.9,217.3L594.7,215.9L595.7,215.0L595.0,214.2L593.8,213.2L594.0,211.5L595.3,211.8L597.6,212.3L599.0,210.9L601.6,209.9L602.1,208.2L603.1,207.5L605.9,207.2L607.7,207.5L607.3,206.5L604.4,204.8L602.3,203.9L601.3,204.9L599.1,204.5L598.1,204.8L597.0,203.8L596.8,201.3L596.6,199.3L599.6,200.3L601.4,198.7L600.6,197.6L600.6,194.9L601.1,194.1L600.1,192.7L598.5,192.1L599.2,190.9L601.3,190.5L603.8,190.4L607.3,191.1L609.8,192.0L612.9,194.6L614.5,195.7L616.3,197.2L618.8,199.7L622.9,200.5L626.5,202.3L629.0,204.7L632.1,204.7L633.1,203.7L636.0,202.9L636.5,205.2L636.3,206.1L637.5,208.9L637.8,211.4L634.9,211.0L633.8,211.9L635.7,214.1L637.2,217.1L636.2,217.2L637.0,218.5L634.7,217.0L634.8,218.4L632.2,219.5L633.3,220.9L631.4,220.8L630.0,220.0L629.5,221.8L628.0,223.2ZM613.4,280.3L611.6,281.6L609.6,280.8L609.2,278.5L610.1,277.3L612.5,276.6L613.8,276.7L614.5,277.7L613.7,278.8Z"/>
<path fill="#fdbb84" d="M516.3,267.2L519.2,269.5L519.9,270.5L519.0,271.4L522.3,274.6L527.0,273.3L527.7,275.8L528.0,278.9L529.1,282.3L530.5,287.3L532.9,290.9L533.5,292.6L534.3,295.8L535.7,298.3L536.6,299.6L537.6,302.2L538.8,305.9L541.1,308.3L542.0,307.6L542.7,305.8L544.8,305.0L544.0,304.2L545.0,302.2L546.1,302.0L545.8,297.6L546.6,295.1L546.3,293.0L545.6,289.6L546.0,287.6L547.1,287.5L549.0,286.5L550.1,285.9L550.0,284.7L552.1,283.0L553.6,281.3L555.7,278.2L558.8,276.5L559.8,274.9L559.4,273.0L562.1,272.4L563.6,272.5L563.8,271.5L563.2,269.4L562.1,267.4L562.2,265.8L560.7,265.1L561.1,264.2L562.3,263.2L560.5,261.8L560.9,260.0L562.9,261.2L564.0,261.3L564.5,263.1L566.7,263.5L568.8,263.4L570.2,263.9L569.5,266.1L568.5,266.3L568.1,267.7L569.5,269.1L569.6,267.4L570.3,267.4L572.0,271.6L573.1,270.9L572.7,269.8L573.1,268.9L572.7,266.2L574.6,266.8L575.2,264.7L575.1,263.4L575.9,261.2L575.5,259.7L578.0,257.9L579.7,258.4L579.2,256.8L579.9,256.3L579.5,255.3L576.0,252.2L574.7,253.3L572.7,252.6L570.5,254.3L568.9,256.3L567.2,256.6L568.3,257.4L568.5,259.0L566.7,259.1L564.7,258.9L563.4,259.3L561.2,258.3L561.0,257.8L560.4,255.8L559.2,256.3L559.2,257.4L559.9,259.1L559.8,260.1L558.0,260.2L555.1,259.6L553.4,259.3L551.9,258.0L548.7,257.7L545.5,256.2L543.2,254.9L540.8,253.9L541.2,251.5L542.3,250.3L538.9,248.5L536.3,246.8L535.0,243.9L536.7,244.3L536.4,243.0L535.2,241.6L534.9,239.5L531.8,236.4L530.2,238.6L527.9,239.0L524.4,238.4L523.6,239.5L525.0,241.8L526.1,243.6L528.2,244.8L526.7,246.4L527.1,248.2L525.5,250.8L524.6,253.5L522.8,256.2L520.1,256.0L518.1,258.8L519.8,259.9L520.3,261.9L521.7,263.2L522.5,265.5L517.6,265.5Z"/>
<path fill="#fdd49e" d="M607.0,272.8L604.3,275.1L602.8,277.5L602.6,279.3L604.8,282.1L607.4,285.5L609.7,287.1L611.4,289.2L613.0,294.0L613.2,298.6L611.4,300.4L608.9,302.0L607.3,304.2L604.6,306.6L603.6,305.0L604.1,303.2L602.3,301.7L604.2,300.7L606.6,300.5L605.4,298.9L609.1,296.9L609.0,293.7L608.3,292.0L608.4,289.4L607.6,287.6L605.6,285.8L603.8,283.4L601.5,280.4L598.5,278.8L599.0,277.9L600.4,277.2L599.1,274.9L596.3,274.9L595.0,272.5L593.3,270.5L594.4,269.8L596.2,269.8L598.4,269.5L600.1,268.1L601.3,269.1L603.5,269.6L603.3,271.1L604.6,272.2Z"/>
<path fill="#fdbb84" d="M593.2,312.2L593.6,311.8L595.5,312.9L595.7,314.2L597.3,313.9L598.0,312.9L598.5,313.1L599.9,314.7L601.0,316.4L601.2,318.2L601.0,319.4L601.2,320.3L601.5,321.8L602.3,322.5L603.3,324.8L603.2,325.7L601.6,325.9L599.4,324.0L596.6,321.9L596.3,320.6L594.9,318.8L594.5,316.6L593.6,315.2L593.8,313.3ZM615.7,323.9L616.1,325.6L617.7,327.1L619.2,326.5L620.7,326.8L622.0,325.4L623.1,325.2L625.3,325.9L627.2,325.4L628.3,321.7L629.1,320.8L629.8,317.8L632.5,317.8L634.5,318.3L636.1,317.4L635.7,316.1L637.2,316.0L637.3,315.0L635.4,314.2L633.8,313.5L633.6,312.3L632.4,311.0L631.4,311.0L630.4,313.1L628.7,314.9L626.8,316.3L625.9,317.3L624.9,318.9L623.3,321.0L620.6,321.6L619.6,322.1L619.2,324.3L617.4,324.8Z"/>
<path fill="#fdbb84" d="M582.3,314.8L587.3,315.4L589.5,318.0L591.3,319.7L592.6,320.8L594.9,323.6L597.3,323.7L599.2,325.4L600.6,327.6L602.4,328.8L601.4,331.0L602.7,331.9L603.6,331.9L603.9,333.7L604.7,335.2L606.4,335.4L607.4,337.1L606.8,340.4L606.5,344.4L603.9,344.4L602.1,342.3L599.2,340.1L598.3,338.5L596.6,336.4L595.5,334.5L593.8,330.8L591.8,328.6L591.1,326.4L590.2,324.3L588.1,322.7L586.8,320.5L585.0,319.0L582.5,316.1ZM605.3,347.0L607.0,344.5L609.8,344.6L611.6,345.7L612.6,345.9L612.8,346.8L617.2,347.1L617.8,346.0L622.0,347.2L622.7,348.9L626.1,349.4L628.8,351.0L626.1,351.9L623.7,350.9L621.6,351.0L619.2,350.8L617.1,350.3L614.5,349.3L612.8,349.0L611.9,349.4L607.7,348.3L607.4,347.2ZM615.7,323.9L616.1,325.6L617.7,327.1L619.2,326.5L620.7,326.8L622.0,325.4L623.1,325.2L625.3,325.9L627.2,325.4L628.3,321.7L629.1,320.8L629.8,317.8L632.5,317.8L634.5,318.3L633.2,320.7L635.0,323.1L634.7,324.3L637.3,326.8L634.6,327.1L633.8,328.8L633.9,331.2L631.7,333.0L631.5,335.6L630.5,339.6L630.2,338.7L627.5,339.8L626.7,338.2L625.0,338.1L623.9,337.2L621.1,338.2L620.3,336.9L618.8,337.1L616.9,336.8L616.7,333.3L615.5,332.5L614.5,330.3L614.1,328.0L614.4,325.6ZM651.7,325.4L649.9,328.0L648.1,328.5L645.9,328.0L642.1,328.1L640.0,328.5L639.7,330.5L641.8,332.8L643.0,331.6L647.3,330.7L647.1,331.9L646.1,331.5L645.1,333.1L643.0,334.1L645.1,337.4L644.7,338.3L646.6,341.3L646.5,343.0L645.2,343.8L644.4,342.9L645.6,340.7L643.3,341.8L642.7,341.0L643.1,340.0L641.5,338.5L641.7,336.0L640.2,336.8L640.3,339.8L640.2,343.5L638.7,343.9L637.7,343.1L638.5,340.7L638.3,338.2L637.3,338.2L636.7,336.4L637.7,334.7L638.0,332.6L639.2,328.7L639.7,327.6L641.7,325.7L643.5,326.5L646.4,326.8L649.0,326.7L651.3,324.8ZM687.9,335.9L687.5,344.4L686.9,352.9L685.0,350.8L682.7,350.2L682.1,351.0L679.2,351.1L680.3,348.9L681.9,348.2L681.5,345.4L680.5,343.2L676.1,341.0L674.2,340.7L670.9,338.3L670.2,339.6L669.3,339.8L668.8,338.9L668.8,337.7L667.1,336.5L669.7,335.5L671.3,335.6L671.1,334.9L667.7,334.9L666.9,333.3L664.8,332.8L663.9,331.6L667.0,330.9L668.2,330.1L671.9,331.1L672.2,332.1L672.7,336.3L675.1,337.9L677.1,335.1L679.8,333.5L681.8,333.5L683.8,334.5L685.5,335.4ZM646.5,356.2L646.2,355.8L646.5,354.9L647.7,353.4L650.0,352.3L650.2,352.8L650.2,353.6L648.5,355.6ZM657.8,323.4L658.0,324.8L659.4,325.1L659.6,326.1L659.6,328.4L658.4,328.2L658.0,329.8L658.9,331.1L658.3,331.4L657.4,329.8L656.7,326.5L657.1,324.4ZM658.3,336.5L661.1,336.4L663.6,337.2L664.3,339.2L662.5,338.1L660.6,337.9L659.2,338.1L657.6,338.0ZM656.1,338.1L655.2,339.0L653.7,338.5L653.3,337.4L655.6,337.3ZM641.8,351.4L643.3,351.2L645.4,350.2L645.0,351.7L641.5,352.4L638.4,352.1L638.5,351.1L640.4,350.6ZM634.7,350.9L636.2,350.7L636.6,351.8L633.9,352.4L632.3,352.7L631.1,352.7L632.0,351.2L633.2,351.2L633.9,350.2ZM640.2,355.1L639.4,354.3L638.3,353.5L636.1,354.1L639.0,355.9ZM672.1,343.5L673.1,344.2L672.7,346.9L671.6,347.1L671.6,345.0Z"/>
<path fill="#fef0d9" d="M687.9,335.9L691.9,337.7L696.0,339.2L697.5,340.5L698.8,341.8L699.0,343.4L702.8,345.0L703.2,346.4L701.1,346.6L701.4,348.4L703.3,350.1L704.6,352.9L705.9,352.8L705.7,353.9L707.4,354.4L706.7,354.9L709.0,356.0L708.6,356.7L707.1,356.9L706.6,356.2L704.7,355.9L702.4,355.6L700.8,353.9L699.7,352.4L698.7,350.2L695.8,349.0L693.8,349.8L692.3,350.6L692.4,352.5L690.5,353.5L689.3,353.0L686.9,352.9L687.5,344.4ZM714.6,338.7L715.5,339.5L715.7,340.8L714.9,341.6L714.6,340.0L714.1,339.0L713.1,338.1L711.8,337.0L710.2,336.3L710.9,335.6L712.1,336.4L712.8,336.9L713.8,337.6ZM711.2,344.3L709.9,345.0L708.7,345.6L707.4,345.6L705.6,344.8L704.4,344.1L704.6,343.3L706.6,343.7L707.9,343.5L708.3,342.2L708.7,342.2L708.8,343.5L710.1,343.4L710.8,342.4L712.2,341.5L712.0,340.0L713.4,339.9L713.8,340.4L713.7,341.8L712.8,343.4L711.6,343.6ZM719.3,343.0L719.9,343.6L720.9,345.3L721.9,346.2L721.6,346.9L720.9,347.2L720.0,346.2L719.1,344.5L718.7,342.5Z"/>
<path fill="#fef0d9" d="M729.7,353.3L731.3,353.6L732.2,354.8L730.5,354.9L729.4,354.2ZM732.1,350.8L733.5,352.9L734.2,354.2L733.5,354.7L732.4,352.3ZM726.8,348.4L729.8,350.0L730.4,351.3L727.6,349.3ZM723.0,346.3L725.2,348.2L723.8,347.9ZM734.0,356.0L735.4,357.3L733.1,355.7Z"/>
<path fill="#fef0d9" d="M744.5,368.0L744.2,370.6L743.1,369.3ZM744.7,371.1L745.2,372.2L744.0,371.4Z"/>
<path fill="#fef0d9" d="M737.7,384.1L739.2,385.8L740.0,387.0L739.0,387.6L738.0,386.9L736.6,385.7L735.5,384.3L734.5,382.5L734.4,381.6L735.4,381.6L736.4,382.5L737.2,383.4Z"/>
<path fill="#fef0d9" d="M768.8,374.4L769.4,375.1L768.6,376.5L767.1,376.9L766.0,376.5L766.0,375.4L767.1,374.5ZM771.4,373.0L769.8,373.5L769.7,372.5L771.0,372.0L773.3,371.1L773.0,372.3Z"/>
<path fill="#ef6548" d="M691.2,365.0L691.7,367.1L693.3,366.1L694.8,368.2L694.4,369.4L694.5,371.6L695.2,375.5L694.7,376.8L697.2,380.0L699.8,382.3L699.4,383.0L700.3,384.6L700.6,387.4L702.9,387.6L702.6,390.4L704.5,393.0L705.7,395.1L705.7,397.2L705.2,398.7L703.8,404.8L701.4,408.3L700.8,409.8L699.5,411.7L697.5,414.1L695.3,415.4L693.5,417.4L692.1,418.7L690.3,420.9L688.8,422.2L687.2,424.2L686.0,426.0L685.6,426.8L683.9,427.7L681.4,427.8L678.8,428.9L677.3,429.9L675.4,431.0L674.3,429.8L673.2,429.4L674.3,428.0L672.8,428.5L669.9,430.4L668.5,429.7L667.5,429.3L666.3,429.1L664.7,428.4L664.1,426.7L664.8,424.8L665.4,422.4L664.3,422.4L662.4,422.1L663.7,420.8L664.1,418.9L662.2,420.7L660.1,421.2L661.8,419.7L662.9,418.2L664.3,416.9L665.0,415.0L662.2,417.2L660.4,418.1L658.7,420.2L657.5,419.1L658.1,417.7L657.6,415.8L656.9,414.9L657.5,414.3L655.4,412.7L653.8,412.6L652.2,411.3L648.2,411.6L644.7,413.2L642.1,413.4L640.1,413.2L637.2,414.6L635.1,415.2L634.2,416.5L632.9,417.6L631.0,417.6L629.6,417.9L627.8,417.4L626.2,417.7L624.6,417.8L622.8,419.2L622.2,419.1L620.8,419.8L619.4,420.6L617.9,420.6L616.4,420.6L614.7,418.9L613.8,418.4L614.4,416.9L615.6,416.5L616.2,415.9L616.4,415.0L617.4,413.2L617.7,411.6L617.4,409.0L617.5,407.5L618.0,406.0L617.6,404.3L617.8,403.6L617.1,402.5L617.3,400.5L616.6,398.4L616.5,397.3L617.3,398.4L617.1,396.0L618.0,396.8L618.4,397.8L618.7,396.4L618.1,394.4L618.0,393.5L617.7,392.8L618.2,391.3L618.8,390.6L619.4,389.3L619.4,387.8L620.7,385.9L620.5,387.9L621.8,386.1L623.7,385.2L625.0,384.1L626.9,383.1L628.0,382.9L628.6,383.3L630.5,382.3L632.0,382.0L632.4,381.4L633.0,381.2L634.3,381.3L636.8,380.5L638.2,379.3L639.1,378.0L640.6,376.6L640.9,375.6L641.2,374.1L643.2,371.9L643.8,374.2L644.8,373.7L644.2,372.4L645.1,371.2L646.1,371.7L646.6,369.8L648.1,368.5L648.8,367.4L650.0,367.0L650.1,366.3L651.1,366.6L651.2,365.9L652.3,365.5L653.4,365.2L654.9,366.4L656.0,367.9L657.4,368.0L658.8,368.2L658.6,366.8L660.0,364.7L661.1,364.0L660.8,363.3L662.0,361.8L663.5,360.9L664.6,361.2L666.6,360.7L666.7,359.4L665.1,358.5L666.4,358.2L667.9,358.8L669.0,359.9L670.8,360.5L671.5,360.3L672.8,361.1L674.2,360.3L675.1,360.6L675.7,360.1L676.6,361.3L675.8,362.8L674.8,363.8L674.0,363.9L674.1,364.9L673.2,366.2L672.2,367.5L672.3,368.3L673.9,369.7L675.5,370.5L676.5,371.5L677.8,373.0L678.5,373.0L679.5,373.6L679.7,374.5L681.7,375.3L683.4,374.5L684.1,373.0L684.8,371.9L685.4,370.5L686.4,368.4L686.3,367.1L686.6,366.4L686.5,364.9L687.1,362.9L687.6,362.4L687.4,361.5L688.1,360.1L688.7,358.7L688.9,357.9L689.9,357.0L690.4,358.2L690.3,359.9L690.8,360.2L690.8,361.3L691.4,362.6L691.4,364.1ZM670.7,435.5L672.1,436.5L673.5,436.1L675.5,435.6L676.6,435.8L674.8,438.8L673.5,439.7L671.8,441.8L671.6,441.1L668.9,442.9L668.6,442.8L667.3,442.7L667.6,440.5L668.4,438.8L668.6,436.5L669.4,435.3Z"/>
<path fill="#fdd49e" d="M738.7,433.7L736.9,435.1L734.5,436.8L732.1,437.9L732.2,437.2L731.6,436.8L734.5,434.7L734.8,433.3L733.2,432.2L734.0,431.3L736.1,430.4L737.8,428.4L738.9,426.7L739.1,424.9L739.5,424.5L739.1,423.4L738.8,421.1L738.9,419.3L739.9,419.1L740.2,420.5L741.5,421.2L740.7,423.5L740.5,426.2L741.7,424.5L742.2,425.2L741.3,427.2L742.4,428.0L743.8,428.2L745.6,427.2L746.5,427.5L744.4,429.8L742.7,431.3L741.1,431.3L740.0,432.1ZM716.6,442.7L719.4,441.3L721.8,440.0L724.2,438.1L725.5,437.4L726.9,436.0L729.3,434.8L728.9,435.9L728.6,436.9L730.9,435.9L730.7,437.0L729.8,438.1L728.1,439.3L725.2,441.2L723.3,442.2L723.1,443.5L721.4,443.5L718.9,444.5L716.9,446.2L713.6,448.7L711.0,449.9L709.4,450.6L707.6,450.6L706.9,449.7L704.9,449.5L705.3,448.6L707.9,446.7L712.6,444.1L714.3,443.7Z"/>
<path fill="#fef0d9" d="M502.1,455.7L503.2,456.5L504.9,456.8L504.8,457.3L503.8,458.4L500.7,458.6L501.1,457.2L501.8,456.2Z"/>
<path fill="#fef0d9" d="M350.0,235.7L351.6,235.7L352.9,236.9L354.9,236.7L357.2,237.2L358.1,237.3L360.2,235.9L362.6,235.4L363.9,234.3L366.0,233.5L369.7,233.1L373.2,232.8L374.3,233.2L376.3,232.2L378.6,232.2L379.5,232.8L381.0,232.6L383.3,231.6L384.8,231.9L384.8,233.2L386.6,232.3L386.8,232.8L385.8,234.0L385.8,235.2L386.6,235.9L386.4,238.2L385.0,239.5L385.4,240.9L386.6,240.9L387.2,242.2L388.0,242.6L390.6,243.5L391.5,243.2L393.4,243.7L396.4,244.8L397.5,247.2L399.5,247.7L402.6,248.8L405.1,250.1L406.1,249.4L407.1,248.2L406.5,246.2L407.1,244.9L408.6,243.7L410.1,243.3L413.1,243.9L413.9,245.0L414.7,245.0L415.5,245.5L417.7,245.8L418.3,246.7L421.2,246.6L423.4,247.3L425.6,248.1L426.7,248.5L428.3,247.7L429.2,246.9L431.1,246.7L432.7,247.0L433.4,248.3L433.8,247.5L435.6,248.1L437.4,248.2L438.4,247.6L440.3,252.1L439.8,253.1L439.5,255.1L438.9,256.5L438.5,256.9L437.7,256.1L436.6,254.9L434.7,251.2L434.5,251.4L435.6,254.1L437.2,256.8L439.2,260.8L440.1,262.3L440.9,263.7L443.1,266.6L442.7,267.1L442.9,268.8L445.6,271.1L446.1,271.7L446.9,274.2L446.5,274.7L446.9,277.4L448.0,280.5L448.9,281.1L450.2,282.1L451.6,285.1L452.4,287.5L453.7,288.8L456.9,291.3L458.3,292.8L459.6,294.3L460.3,295.2L461.5,295.9L462.1,296.7L462.0,297.8L460.8,298.4L461.8,299.2L462.5,299.6L463.0,300.7L464.1,301.8L465.2,301.8L467.4,301.2L469.9,300.8L471.9,300.0L473.0,299.9L473.8,299.4L475.1,299.3L475.8,299.3L476.9,298.9L478.1,298.6L479.1,297.7L480.0,297.7L480.0,298.4L479.9,299.9L480.0,301.3L479.5,302.3L479.0,305.1L478.0,308.0L476.6,311.3L474.7,315.2L472.8,318.1L470.2,321.6L467.9,323.7L464.5,326.4L462.3,328.3L459.8,331.5L459.3,332.9L458.8,333.5L457.1,334.5L456.5,335.6L455.7,335.8L455.3,337.7L454.6,338.7L454.1,340.5L453.1,341.3L452.0,344.5L452.1,346.0L453.6,347.0L453.7,347.6L453.0,349.2L453.1,350.0L452.9,351.3L453.7,352.9L454.6,355.5L455.4,356.0L455.7,357.2L455.5,359.8L455.7,362.1L455.6,366.2L456.0,367.5L455.2,369.3L454.2,371.1L452.7,372.8L450.6,373.7L447.9,375.0L445.2,377.8L444.3,378.3L442.6,380.1L441.7,380.7L441.4,382.6L442.4,384.6L442.7,386.1L442.7,386.9L443.1,386.8L442.9,389.3L442.5,390.6L443.0,391.0L442.6,392.1L441.6,393.0L439.7,393.9L436.9,395.3L435.8,396.3L435.9,397.4L436.5,397.6L436.2,398.9L435.5,400.8L435.1,403.0L434.4,404.2L432.8,405.5L432.3,405.9L431.3,407.2L430.6,408.5L429.2,410.4L426.4,413.1L424.7,414.7L423.0,415.9L420.6,416.9L419.5,417.0L419.1,417.7L417.8,417.4L416.7,417.9L414.4,417.3L413.0,417.7L412.1,417.5L409.8,418.6L407.9,419.0L406.5,420.0L405.5,420.0L404.7,419.1L403.9,419.0L403.1,417.9L402.9,418.2L402.7,417.5L402.8,416.0L402.2,414.2L402.9,413.8L403.0,411.8L401.7,409.3L400.6,407.1L399.2,403.7L397.6,401.7L396.8,399.8L396.4,397.3L395.9,395.4L395.3,391.4L395.3,388.3L395.0,386.8L394.2,385.8L393.0,383.6L391.9,380.5L391.5,378.8L389.6,376.3L389.5,374.3L389.4,372.6L389.7,370.3L390.5,368.0L390.7,366.8L391.4,364.5L392.0,363.4L393.3,361.7L394.1,360.5L394.3,358.6L394.3,357.1L393.6,356.2L393.0,354.6L392.4,353.0L392.6,352.5L393.3,351.5L392.6,348.9L392.1,347.2L391.0,345.5L391.2,345.0L390.9,344.2L390.3,342.3L388.4,339.5L386.1,336.9L384.5,334.7L383.1,332.0L383.2,331.1L383.7,330.3L384.3,328.4L384.7,326.5L384.3,326.1L385.1,323.1L385.4,321.1L384.5,319.4L383.5,318.9L383.0,317.7L382.4,317.4L382.4,316.6L380.0,317.6L379.2,317.5L378.3,318.0L376.4,318.0L375.2,316.3L374.4,314.5L372.8,312.7L371.1,312.8L369.0,312.8L367.1,313.1L365.3,313.6L361.7,315.2L360.4,316.0L358.3,316.8L356.3,316.1L355.2,316.1L353.6,315.6L352.1,315.6L349.4,316.1L347.8,316.8L345.5,317.8L345.1,317.7L344.5,317.7L342.1,316.5L340.0,314.5L338.0,313.1L336.5,311.4L335.9,311.2L334.2,310.1L333.1,308.7L332.7,307.8L332.4,305.9L331.4,304.3L330.5,303.3L329.9,302.9L329.4,302.4L329.1,301.3L328.8,300.7L328.1,300.3L326.9,299.2L325.9,299.0L325.5,298.3L325.5,297.9L324.8,297.3L324.6,296.8L324.3,294.8L324.6,293.6L323.7,291.6L322.6,290.6L323.6,290.1L324.7,288.3L325.3,287.0L325.1,285.6L325.8,284.3L326.1,281.8L325.9,279.2L325.7,277.9L326.0,276.6L325.4,275.4L324.3,274.3L324.4,273.2L324.5,271.9L325.4,271.2L326.2,269.9L326.0,269.0L326.9,267.2L328.2,265.5L328.9,265.1L329.6,263.6L329.7,262.2L330.5,260.6L332.1,259.6L333.5,256.9L334.7,255.9L336.8,255.6L338.6,253.8L339.7,253.1L341.7,251.0L341.2,247.7L342.1,245.4L342.4,244.1L343.9,242.3L346.1,241.1L347.8,240.0L349.3,237.3Z"/>
<path fill="#fef0d9" d="M476.3,361.7L476.9,362.8L477.4,364.5L477.6,367.6L478.1,368.9L477.8,370.1L477.3,370.9L476.6,369.3L476.2,370.1L476.5,372.1L476.2,373.2L475.5,373.8L475.2,376.0L474.1,379.0L472.7,382.6L471.0,387.6L469.8,391.2L468.6,394.2L466.7,394.8L464.6,395.9L463.4,395.3L461.7,394.4L461.2,393.0L461.2,390.6L460.6,388.6L460.5,386.7L461.0,384.8L462.1,384.4L462.2,383.5L463.3,381.5L463.7,379.9L463.2,378.6L462.9,377.0L462.9,374.6L463.8,373.1L464.2,371.5L465.3,371.3L466.6,370.8L467.5,370.3L468.5,370.3L469.9,368.8L471.8,367.2L472.6,365.9L472.3,364.8L473.3,365.1L474.7,363.3L474.8,361.7L475.6,360.5Z"/>
<path fill="url(#hatch)" stroke="#b9b9b9" d="M324.3,274.3L324.4,273.2L324.5,271.9L325.4,271.2L326.2,269.9L326.0,269.0L326.9,267.2L328.2,265.5L328.9,265.1L329.6,263.6L329.7,262.2L330.5,260.6L332.1,259.6L333.5,256.9L343.5,256.9L343.5,257.6L343.4,261.5L336.0,261.4L336.0,268.1L333.9,268.3L333.3,269.6L333.6,273.4L324.8,273.4Z"/>
<path fill="#ef6548" d="M358.1,237.3L360.2,235.9L362.6,235.4L363.9,234.3L366.0,233.5L369.7,233.1L373.2,232.8L374.3,233.2L376.3,232.2L378.6,232.2L379.5,232.8L381.0,232.6L380.6,234.0L381.0,236.5L380.6,238.6L379.3,240.1L379.5,242.0L381.3,243.6L381.4,244.2L382.8,245.3L383.8,250.0L384.6,252.3L384.7,253.5L384.4,255.6L384.6,256.8L384.3,258.2L384.6,259.9L383.7,261.0L385.1,262.9L385.2,264.0L386.0,265.4L387.0,265.0L389.8,267.8L382.2,272.8L375.7,277.9L372.5,279.1L370.0,279.3L370.0,277.7L368.9,277.2L367.5,276.5L367.0,275.3L359.3,269.6L351.8,263.9L343.5,257.6L343.5,256.9L343.6,253.8L347.2,251.9L349.4,251.5L351.2,250.8L352.1,249.5L354.7,248.4L354.8,246.5L356.1,246.3L357.1,245.3L360.0,244.9L360.4,243.8L359.8,243.3L359.1,240.5L358.9,238.9Z"/>
<path fill="#ef6548" d="M388.0,242.6L390.6,243.5L391.5,243.2L393.4,243.7L396.4,244.8L397.5,247.2L399.5,247.7L402.6,248.8L405.1,250.1L406.1,249.4L407.1,248.2L406.5,246.2L407.1,244.9L408.6,243.7L410.1,243.3L413.1,243.9L413.9,245.0L414.7,245.0L415.5,245.5L417.7,245.8L418.3,246.7L417.6,247.9L418.0,249.0L417.5,250.7L418.3,252.8L418.9,262.0L419.3,271.7L419.5,276.9L416.9,276.9L416.9,278.0L407.7,273.0L398.6,268.0L396.3,269.4L394.7,270.4L393.4,268.9L389.8,267.8L387.0,265.0L386.0,265.4L385.2,264.0L385.1,262.9L383.7,261.0L384.6,259.9L384.3,258.2L384.6,256.8L384.4,255.6L384.7,253.5L384.6,252.3L383.8,250.0L384.9,249.4L385.0,248.3L384.8,247.2L386.3,246.2L386.9,245.3L387.9,244.6Z"/>
<path fill="#fdbb84" d="M418.3,246.7L421.2,246.6L423.4,247.3L425.6,248.1L426.7,248.5L428.3,247.7L429.2,246.9L431.1,246.7L432.7,247.0L433.4,248.3L433.8,247.5L435.6,248.1L437.4,248.2L438.4,247.6L440.3,252.1L439.8,253.1L439.5,255.1L438.9,256.5L438.5,256.9L437.7,256.1L436.6,254.9L434.7,251.2L434.5,251.4L435.6,254.1L437.2,256.8L439.2,260.8L440.1,262.3L440.9,263.7L443.1,266.6L442.7,267.1L442.9,268.8L445.6,271.1L446.1,271.7L437.1,271.7L428.4,271.7L419.3,271.7L418.9,262.0L418.3,252.8L417.5,250.7L418.0,249.0L417.6,247.9Z"/>
<path fill="#ef6548" d="M382.4,316.6L380.0,317.6L379.2,317.5L378.3,318.0L376.4,318.0L375.2,316.3L374.4,314.5L372.8,312.7L371.1,312.8L369.0,312.8L369.2,308.6L369.1,306.9L369.5,305.2L370.2,304.5L371.4,302.8L371.1,302.1L371.6,301.1L371.0,299.5L371.1,298.7L371.3,296.3L371.9,295.3L372.2,293.8L372.8,293.2L375.3,292.9L377.6,293.9L378.4,294.8L379.6,294.9L380.7,294.3L383.5,295.6L384.6,295.5L386.0,294.4L387.3,294.5L388.0,294.1L389.2,294.3L391.0,295.1L392.8,293.6L393.3,293.7L394.0,294.4L395.3,296.5L396.2,297.5L396.0,298.0L395.9,298.9L394.0,300.9L393.4,302.6L393.1,303.9L392.6,304.5L392.1,306.3L390.9,307.4L390.6,308.7L390.1,309.8L389.9,310.9L388.3,311.8L387.0,310.7L386.1,310.7L384.8,312.3L384.1,312.3L383.0,314.8Z"/>
<path fill="#fdd49e" d="M385.1,323.1L385.4,321.1L384.5,319.4L383.5,318.9L383.0,317.7L382.4,317.4L382.4,316.6L383.0,314.8L384.1,312.3L384.8,312.3L386.1,310.7L387.0,310.7L388.3,311.8L389.9,310.9L390.1,309.8L390.6,308.7L390.9,307.4L392.1,306.3L392.6,304.5L393.1,303.9L393.4,302.6L394.0,300.9L395.9,298.9L396.0,298.0L396.2,297.5L395.3,296.5L397.0,297.2L397.1,298.9L397.1,300.7L398.4,303.0L397.1,303.0L396.4,303.2L395.4,302.9L394.9,304.2L396.3,305.7L397.3,306.1L397.6,307.2L398.4,309.0L398.0,309.7L396.9,312.4L396.3,312.8L396.1,314.9L396.4,316.0L396.2,316.7L397.3,318.1L397.5,319.0L398.4,320.4L399.4,321.2L399.5,322.4L399.8,323.2L399.6,324.6L397.8,324.0L395.9,323.3L393.0,323.2L392.7,323.0L391.3,323.4L389.9,323.0L388.8,323.2Z"/>
<path fill="#fdbb84" d="M388.4,339.5L386.1,336.9L384.5,334.7L383.1,332.0L383.2,331.1L383.7,330.3L384.3,328.4L384.7,326.5L385.5,326.3L388.9,326.3L388.8,323.2L389.9,323.0L391.3,323.4L392.7,323.0L393.0,323.2L392.8,324.3L393.5,325.7L395.2,325.4L395.8,326.0L394.8,329.0L395.9,330.5L396.1,332.6L395.8,334.3L395.1,335.5L393.1,335.4L391.8,334.2L391.7,335.3L390.1,335.7L389.3,336.3L390.2,338.1Z"/>
<path fill="#fdbb84" d="M390.3,342.3L388.4,339.5L390.2,338.1L389.3,336.3L390.1,335.7L391.7,335.3L391.8,334.2L393.1,335.4L395.1,335.5L395.8,334.3L396.1,332.6L395.9,330.5L394.8,329.0L395.8,326.0L395.2,325.4L393.5,325.7L392.8,324.3L393.0,323.2L395.9,323.3L397.8,324.0L399.6,324.6L399.8,323.2L401.0,320.7L402.3,319.4L403.9,319.8L405.4,320.0L405.2,321.5L404.6,322.9L404.1,324.6L403.8,326.9L404.0,328.3L403.6,329.3L403.5,330.2L403.3,331.0L401.7,332.3L400.7,333.6L399.7,336.2L399.7,338.3L399.1,339.2L397.8,340.4L396.4,342.1L395.6,341.6L395.4,340.9L394.2,340.8L393.4,341.8L392.8,341.6L391.9,340.7L391.2,341.1Z"/>
<path fill="#fdbb84" d="M389.5,374.3L389.4,372.6L389.7,370.3L390.5,368.0L390.7,366.8L391.4,364.5L392.0,363.4L393.3,361.7L394.1,360.5L394.3,358.6L394.3,357.1L393.6,356.2L393.0,354.6L392.4,353.0L392.6,352.5L393.3,351.5L392.6,348.9L392.1,347.2L391.0,345.5L391.2,345.0L392.2,344.7L392.8,344.7L393.6,344.4L400.4,344.5L401.0,346.4L401.6,348.0L402.2,348.8L403.0,350.2L404.5,350.0L405.3,349.6L406.6,350.0L406.9,349.3L407.5,347.8L408.9,347.7L409.1,347.2L410.2,347.2L410.0,348.2L412.8,348.1L412.9,349.8L413.3,350.8L412.9,352.4L413.1,354.0L413.8,354.9L413.7,358.0L414.2,357.8L415.2,357.9L416.7,357.5L417.7,357.6L417.9,358.4L417.6,359.7L418.0,360.9L417.6,361.9L417.8,362.8L413.0,362.8L412.8,371.1L414.2,373.2L415.7,374.8L411.4,375.9L406.0,375.6L404.4,374.3L395.2,374.4L394.8,374.6L393.5,373.4L392.0,373.3L390.7,373.8ZM390.9,344.2L390.3,342.3L391.2,341.1L391.9,340.7L392.8,341.6L391.9,342.1L391.6,342.8L391.5,343.9Z"/>
<path fill="none" stroke-width="0.5" d="M160.1,282.6L159.3,287.6L160.0,287.6M161.6,288.0L160.4,289.0L159.3,289.8L159.0,290.3L159.2,290.8L158.7,291.4M158.7,291.4L158.1,291.6L158.2,291.9L157.7,292.2L156.9,292.9L156.8,293.2M158.7,291.4L159.3,291.7L159.7,292.2L160.4,292.6L160.5,292.9L161.5,292.6L161.9,292.8L162.2,293.1L162.0,294.2M162.9,295.2L163.7,295.1L164.0,294.5L164.4,294.5L164.4,293.2L165.0,293.1L165.4,293.1L166.0,292.4L166.6,293.0L166.9,292.6L167.3,292.3L168.2,291.6L168.3,291.1L168.5,291.1L168.9,290.5L169.1,290.4L169.5,290.8L169.9,290.9L170.4,290.6L171.0,290.6L171.8,290.2L172.2,289.9L173.0,289.9M166.2,300.1L168.1,300.5L168.6,300.2L169.3,300.4L169.7,300.9L170.3,301.1L170.9,300.5M172.1,307.6L172.2,307.1L172.5,306.6L172.4,306.1L172.8,305.8L172.3,305.4L172.4,304.3L173.2,304.1M200.3,277.6L200.4,279.0L200.1,280.0L199.4,280.5L200.0,281.3L199.8,282.0M374.9,198.7L374.4,198.8L374.2,200.2M382.4,205.3L382.5,205.8L382.2,206.4L383.1,206.9L384.2,207.0M390.3,201.9L391.8,202.7L392.9,201.7L393.6,201.5L395.2,202.3L396.1,202.1L397.1,202.6M397.1,202.6L397.0,202.9L397.3,203.8M397.3,203.8L397.2,204.9L396.1,204.9L396.5,205.4L396.0,207.1M396.0,207.1L395.6,207.5L393.8,207.5L392.8,208.1L391.1,207.9M397.1,202.6L397.4,202.0L398.3,202.1L398.9,201.8L399.3,201.5L399.4,200.9L399.8,200.8L400.1,200.3L400.7,200.3M397.3,203.8L398.4,204.5L399.1,204.7L400.8,204.4L400.9,203.9L401.7,203.8L402.7,203.4L403.8,203.3L404.2,202.7L404.9,202.5L407.1,203.3L407.5,203.1M409.0,204.4L407.8,205.0L407.0,206.7L405.9,208.4L404.4,208.9M404.4,208.9L403.1,208.8L401.6,209.5M401.6,209.5L400.8,209.8L399.1,209.4L397.4,208.3L396.8,207.9L396.3,207.1L396.0,207.1M396.8,207.9L395.2,208.6L395.1,209.7L394.4,209.9L394.4,210.6L393.6,210.6L392.9,210.2L392.5,210.6L391.1,210.5M402.2,212.2L401.2,211.6L399.7,211.6L397.9,211.2L397.0,211.3L396.6,211.8L395.8,211.2L395.4,212.3L396.5,213.5L397.1,214.3L398.1,215.2L398.9,215.8L399.8,216.9L401.7,217.8M402.2,212.2L402.9,211.2L402.1,210.5L401.6,209.5M402.2,212.2L402.9,212.2L402.5,213.3L403.6,214.3L403.4,215.5L402.9,215.6M402.9,215.6L401.9,216.4L401.7,217.8L401.5,218.3M402.9,215.6L403.5,216.0L404.6,216.7L405.4,217.2L405.3,217.4L404.9,218.0M405.3,217.4L405.7,217.2L406.0,216.4L406.6,216.6L407.4,217.2L408.2,217.8L408.3,218.4L408.2,218.9M408.2,218.9L407.7,219.0L406.5,219.4L406.2,219.9M406.2,219.9L405.9,219.0L405.4,218.7L404.9,218.0M404.9,218.0L404.4,218.2L404.2,217.7L403.4,219.0L403.6,219.8M408.2,218.9L409.8,218.7M409.8,218.7L410.1,217.2L410.9,216.4L409.7,215.3L409.4,214.3L409.9,213.8M409.9,213.8L409.5,213.3L408.8,213.1L407.5,212.4L407.2,211.3L405.9,210.7L405.6,209.9L404.4,208.9M409.9,213.8L410.6,214.8L411.4,214.6L413.0,215.0L416.1,215.2L417.1,214.5L419.4,213.9L421.1,214.8L422.3,215.1M416.8,203.6L417.4,203.8L418.2,204.6L419.0,205.6L420.4,207.2L420.6,208.3L420.5,209.4L421.0,210.5M409.8,218.7L411.0,219.5L411.3,221.2M411.3,221.2L412.9,221.3L414.5,220.6L416.1,221.5L418.0,221.3L417.8,220.0M417.8,220.0L419.9,219.2L421.7,219.5M417.8,220.0L418.9,220.7L418.5,222.3L418.0,222.6M411.3,221.2L410.9,221.3L410.6,221.8L409.5,221.7L408.7,222.3L407.3,222.5M406.2,219.9L406.0,220.8L406.4,221.9L407.3,222.5M407.3,222.5L407.3,223.2L406.7,223.6L406.6,224.4L405.8,225.7M404.3,160.4L403.5,159.5L402.8,156.0L399.9,154.5L397.4,153.4M408.5,179.7L410.1,179.3L410.9,179.6L412.7,180.5L414.3,180.5L415.0,179.7M403.1,184.0L405.1,183.3L408.3,183.4L410.2,183.2L410.5,183.7L411.6,183.9L413.6,185.0M413.6,185.0L414.7,184.6L416.6,183.7M413.6,185.0L414.0,186.1L412.5,186.9L412.3,188.3L410.4,189.3L408.5,189.3M450.5,220.7L452.7,220.6L455.0,221.9M455.0,221.9L457.8,221.5M457.8,221.5L458.3,221.0L460.0,221.8L461.1,222.0L461.4,221.6L460.1,220.2L460.5,219.9M455.0,221.9L455.5,222.8L455.5,224.1L457.2,224.7L458.2,225.5M457.8,221.5L458.4,222.1L459.3,222.6L459.0,223.2L460.3,224.1L459.8,225.0L460.9,225.7L461.9,226.1L462.3,227.9M458.2,225.5L458.6,225.4L459.4,226.1L460.3,226.1L460.4,226.5L461.5,228.0M439.8,242.7L440.5,242.7L440.7,242.3L441.3,242.2M441.2,243.7L440.9,244.5L441.1,246.1L440.8,246.9L441.0,247.9L440.3,252.1M440.9,244.5L440.1,244.2L439.8,245.9L440.4,246.2L439.9,246.5L439.8,247.2L440.8,246.9M506.0,231.6L507.2,231.6L509.0,232.1M509.0,232.1L509.7,232.4L511.1,231.6L511.9,232.1L512.3,230.9L513.6,231.0L513.8,230.6L513.8,229.5L514.5,228.6L515.8,229.2L515.8,230.0L516.5,230.1L516.8,232.3L517.9,233.2L518.5,232.6L519.4,232.4L520.4,231.2L522.0,231.4L524.2,231.4M524.8,232.2L523.6,232.4L522.7,232.9L520.3,233.2L518.1,233.8L517.1,234.9L517.9,236.0L518.5,237.3L517.7,238.4L518.0,239.4L517.6,240.3L515.5,240.3L516.7,242.0L515.5,242.6L514.9,244.2L515.4,245.8L514.7,246.5L513.8,246.3L512.2,246.6L512.1,247.4L510.4,247.4L509.5,248.8L509.8,251.1L507.1,252.2L505.5,251.9L505.2,252.5L503.8,252.2L501.6,252.5L497.7,251.2M509.0,232.1L509.5,229.5L508.6,227.6L506.8,226.9L507.1,225.8L508.9,225.9L509.5,224.5L509.7,222.8L512.3,222.2L512.2,223.4L512.8,224.1L513.6,224.1M513.6,224.1L513.1,224.9L510.6,224.4L510.8,225.9L513.1,225.7L516.0,226.6L519.9,226.2M513.6,224.1L515.3,224.3L517.5,222.4L514.5,221.1L513.2,221.7L511.3,220.8L512.6,219.1L511.9,218.8M637.5,228.3L636.7,229.1L635.3,229.2L635.0,230.4L634.0,230.3L634.0,230.5M589.1,303.2L589.5,301.4L590.2,298.6L589.5,293.0L587.7,290.9L587.0,289.6L587.8,289.1L588.3,286.9L587.1,285.1L585.5,283.2L584.0,280.9L584.9,280.5L585.5,277.6L587.1,277.5L588.3,276.4L589.5,275.8M589.5,275.8L589.8,274.8L591.5,273.1M589.5,275.8L590.6,276.6L591.0,278.2L592.5,278.3L592.4,281.0L592.8,283.4L594.9,281.8L595.7,282.3L597.0,282.2L597.3,281.3L599.1,281.5L601.1,283.6L601.6,286.2L603.8,288.4L603.9,290.7L603.3,291.8M603.3,291.8L601.1,291.4L598.3,291.9L597.0,294.1L597.9,297.3M603.3,291.8L605.3,292.9L606.2,291.1L608.3,292.0M358.1,237.3L358.9,238.9L359.1,240.5L359.8,243.3L360.4,243.8L360.0,244.9L357.1,245.3L356.1,246.3L354.8,246.5L354.7,248.4L352.1,249.5L351.2,250.8L349.4,251.5L347.2,251.9L343.6,253.8L343.5,256.9M383.8,250.0L384.9,249.4L385.0,248.3L384.8,247.2L386.3,246.2L386.9,245.3L387.9,244.6L388.0,242.6M383.8,250.0L382.8,245.3L381.4,244.2L381.3,243.6L379.5,242.0L379.3,240.1L380.6,238.6L381.0,236.5L380.6,234.0L381.0,232.6M351.8,263.9L348.4,263.9L349.3,275.2L350.3,286.5L350.7,286.8L350.2,288.6L341.0,288.7L340.7,289.3L339.8,289.1L338.5,289.6L336.9,288.9L336.2,288.9L335.8,290.5L335.0,290.9M335.0,290.9L333.6,289.2L332.2,287.2L330.7,286.5L329.6,285.8L328.3,285.8L327.2,286.4L326.1,286.1L325.3,287.0M335.0,290.9L335.1,292.6L335.5,294.1L336.4,294.8L336.6,295.8L336.5,296.6L336.1,296.7M336.1,296.7L334.9,296.5L334.7,296.9L334.2,296.9L332.6,296.3L331.5,296.2M331.5,296.2L327.2,296.1L326.6,296.4L325.9,296.3L324.6,296.8M324.3,294.8L326.4,294.8L326.9,294.5L327.3,294.4L328.2,293.8L329.2,294.4L330.2,294.4L331.2,293.8L330.7,293.1L329.9,293.5L329.2,293.5L328.4,292.9L327.6,292.9L327.1,293.5L324.6,293.6M331.5,296.2L331.4,297.1L331.2,297.4L331.3,298.3L331.0,298.6L330.5,298.6L329.9,299.0L329.2,299.0L328.1,300.3M336.1,296.7L336.9,297.6L337.5,297.2L337.9,297.3L338.6,298.0L339.5,298.2L340.2,297.6L340.9,297.3L341.5,296.9L341.9,297.0L342.4,297.5L342.7,298.3L343.6,299.4L343.2,300.0L343.1,300.9L343.5,300.6L343.8,300.9L343.7,301.7L344.4,302.4M344.4,302.4L343.9,302.6L343.8,303.5L344.3,304.6L344.8,306.7L344.0,307.0L343.8,307.4L343.9,307.9L343.8,309.0L343.4,309.0M343.4,309.0L342.8,309.0L342.3,310.0L341.7,310.0L341.2,309.4L341.4,308.4L340.4,306.8L339.8,307.1L339.3,307.1M339.3,307.1L338.7,307.3L338.7,306.3L338.4,305.7L338.4,304.9L337.9,303.8L337.3,302.9L335.5,302.9L334.9,303.4L334.3,303.4L333.9,304.0L333.6,304.7L332.4,305.9M339.3,307.1L338.2,308.4L337.2,309.8L337.1,310.5L336.5,311.4M343.4,309.0L343.3,309.8L343.5,311.1L343.0,312.2L343.7,312.9L344.4,313.1L345.4,314.2L345.5,315.2L345.2,315.5L345.1,317.7M344.4,302.4L344.7,302.2L345.3,302.6L347.1,302.6L347.5,301.9L347.9,301.9L348.6,301.6L349.0,302.7L349.5,302.4L350.4,302.0M350.4,302.0L350.3,300.5L350.9,299.4L350.9,298.5L352.7,296.4L353.0,294.6L353.7,293.9L354.8,294.3L355.7,293.7L356.0,293.1L357.8,291.9L358.3,291.1L360.4,290.0L361.7,289.6L362.2,290.1L363.7,290.1M363.7,290.1L365.2,290.0L366.0,289.1L369.1,288.9L371.1,288.4L371.3,286.9L372.6,285.1L372.5,279.1M350.4,302.0L351.5,302.6L351.9,303.5L352.9,304.0L353.7,303.4L354.8,303.3L356.3,303.9M356.3,303.9L357.0,307.6L356.0,309.8L355.4,312.8L356.4,315.0L356.3,316.1M356.3,303.9L356.0,301.9L356.1,300.5L360.1,300.4L361.1,300.5L361.8,300.1L362.9,300.3M362.9,300.3L362.7,301.1L363.7,302.5L363.7,304.4L363.9,306.4L364.5,307.4L364.0,309.8L364.2,311.1L364.8,312.7L365.3,313.6M362.9,300.3L364.9,300.4M364.9,300.4L364.6,301.8L365.3,302.5L366.1,303.4L366.2,304.7L366.7,305.3L366.6,311.3L367.1,313.1M364.9,300.4L365.7,300.1L366.2,298.9L367.3,298.7L367.8,297.9M367.8,297.9L367.8,296.1L365.2,295.5L365.1,294.3L363.8,292.6L363.5,291.4L363.7,290.1M367.8,297.9L368.5,297.2L369.4,297.1L371.1,298.7M394.0,294.4L393.8,291.6L394.7,288.2L397.6,285.7L397.6,282.3L398.4,277.0L398.8,275.9L397.9,275.0L397.8,274.1L397.0,273.5L396.3,269.4M416.9,278.0L417.3,288.3L415.4,288.2L414.4,290.1L413.8,291.7L414.3,292.3L413.6,293.1L413.9,294.2L413.3,295.3L413.1,296.2L413.9,296.1L414.4,297.1L414.4,298.6L415.3,299.4L415.3,300.0M415.3,300.0L413.8,300.5L412.7,301.5L411.1,304.3L408.9,305.6L406.7,305.4L406.1,305.7L406.3,306.6L405.1,307.5L404.1,308.5L401.3,309.5L400.7,308.9L400.3,308.9L399.9,309.5L398.0,309.7M415.3,300.0L415.6,301.1L416.9,302.8L416.9,303.8L416.6,304.9L416.7,305.7L417.6,306.5L419.3,307.6M419.3,307.6L420.6,308.7L420.6,309.5L422.2,310.9L423.2,312.0L423.8,313.6L425.5,314.6L425.9,315.4M425.9,315.4L425.1,315.7L423.6,315.7L421.9,315.4L421.1,315.6L420.7,316.2L420.0,316.3L419.1,315.8L416.5,317.1L415.5,316.8L415.1,317.0L414.5,318.6L412.7,318.1L411.1,317.8L409.6,316.9L407.7,316.0L406.4,316.8L405.6,318.1L405.4,320.0M419.3,307.6L417.8,306.6L418.4,306.3L419.2,305.8L419.8,303.5L420.4,302.3L422.0,301.9L422.4,302.6L423.7,304.2L424.3,304.4L425.1,303.9L426.8,304.0L427.1,304.6L429.4,304.6L429.4,304.0L430.6,303.5L430.8,302.8L431.7,302.2L433.7,303.7L434.8,303.5L435.9,301.6L437.2,300.2L436.9,298.6L436.3,297.8L437.7,297.7L437.8,297.1L438.9,297.3L438.7,299.2L439.0,301.1L440.2,302.1L440.5,303.0L440.5,304.3L440.8,304.4M440.8,304.4L441.5,301.3L442.5,300.6L442.7,299.5L443.6,297.6L445.0,296.3L445.8,293.7L446.1,291.4M440.8,304.4L440.9,306.4L440.6,307.2L439.4,307.3L438.6,308.8L440.0,309.0L441.2,310.2L441.7,311.3L442.7,311.9L444.1,314.7M446.1,291.4L445.8,290.4L446.6,286.6L446.7,284.8L447.4,284.0L449.1,283.6L450.2,282.1M446.1,291.4L448.8,292.0L449.4,290.0L450.8,291.2L452.2,290.6L452.7,291.2L454.3,291.2L456.3,292.2L457.0,293.1L458.0,294.0L459.0,295.5L459.8,296.4M459.8,296.4L461.5,295.9M459.8,296.4L459.1,297.5L458.3,298.7L458.6,299.4L458.6,300.2L459.9,300.3L460.4,300.1L461.0,300.6M461.0,300.6L461.8,299.2M461.0,300.6L460.5,301.5L461.4,302.9L462.3,304.2L463.2,305.1L470.8,308.2L472.7,308.2L466.4,316.0L463.4,316.1L461.4,318.0L459.9,318.1L459.3,318.9M459.3,318.9L457.7,318.9L456.8,318.0L454.7,319.1L454.0,320.2L452.5,320.0L452.0,319.6L451.4,319.7L450.7,319.7L447.8,317.5L446.2,317.5L445.4,316.6L445.3,315.2L444.1,314.7M459.3,318.9L457.3,321.8L457.4,331.3L458.8,333.5M444.1,314.7L442.6,316.4L441.2,318.0M441.2,318.0L439.8,319.2L438.2,319.2L436.3,319.8L434.9,319.2L433.9,319.9M433.9,319.9L431.9,318.2L431.3,317.1L430.0,317.6L429.0,317.5L428.3,317.9L427.3,317.6L425.9,315.4M441.2,318.0L442.3,319.8L442.6,321.1L443.6,324.1L442.8,326.0L441.7,327.7L441.0,328.8L441.0,331.6M441.0,331.6L449.7,337.2L449.9,338.7L453.1,341.3M433.9,319.9L433.8,323.0L434.7,323.4L434.0,324.3L433.1,325.0L432.2,326.3L431.8,327.5L431.6,329.6L431.1,330.6L431.1,332.6M431.1,332.6L431.6,332.9L433.0,332.1M433.0,332.1L433.8,331.7L436.3,331.8L441.0,331.6M431.1,332.6L430.4,333.3L430.3,334.9L430.0,335.1L429.7,336.5M429.7,336.5L431.1,336.7L431.9,335.2L433.1,335.4M433.1,335.4L433.8,335.1L433.9,333.5L433.0,332.1M429.7,336.5L430.3,337.7L430.4,340.8M430.4,340.8L431.4,340.7L432.2,339.8L433.2,338.4L433.7,337.9L433.7,337.0L433.2,336.4L433.1,335.4M430.4,340.8L430.8,343.3L430.6,344.6L431.0,346.1L432.3,347.6L433.5,350.9M433.5,350.9L432.6,350.6L429.5,351.1L428.9,351.4L428.2,353.0L428.7,354.2L428.2,357.3L427.9,359.9L428.5,360.4L430.1,361.4L430.7,360.9L430.8,363.7L429.0,363.7L428.1,362.3L427.4,361.1L425.6,360.8L425.1,359.4L423.7,360.2L421.9,359.9L421.1,358.7L419.7,358.4L418.6,358.5L418.5,357.7L417.7,357.6M433.5,350.9L434.5,351.5L435.4,352.0L436.8,352.4L438.1,353.2M438.1,353.2L440.3,353.7L440.8,354.4L441.5,355.6L442.1,359.2M442.1,359.2L443.8,359.0L446.5,359.7L447.2,359.4L448.7,359.3L449.6,358.5L451.0,358.6L453.5,357.6L455.4,356.0M438.1,353.2L439.2,354.4L439.7,356.6L439.3,357.3L438.7,359.4L439.1,361.6L438.4,362.5L437.6,364.9M437.6,364.9L438.8,365.6L440.1,366.8L440.7,366.6L441.6,367.2L441.7,368.3L441.1,369.5L441.2,371.3L442.6,373.0L443.4,371.2L444.4,370.6L444.4,367.2L443.5,365.4L442.7,364.5L441.9,364.6L441.4,361.2L442.1,359.2M437.6,364.9L435.0,366.2L432.1,368.3L431.9,369.6M431.9,369.6L430.2,369.9L428.9,371.0L428.5,371.9L427.7,372.1L425.7,374.2L424.3,375.9L423.6,376.0L422.8,375.7L420.3,375.4M420.3,375.4L419.9,375.2L419.0,374.4L417.5,374.3L415.7,374.8M431.9,369.6L432.0,370.6L433.9,370.5L435.0,371.1L435.4,371.7L436.5,371.9L437.7,372.7L437.5,376.0L437.0,377.8L436.8,379.8L437.1,380.6L436.8,382.1L436.4,382.4L435.7,384.2L433.2,387.2M433.2,387.2L432.0,386.9L431.3,387.2L430.2,386.8L429.3,386.8M429.3,386.8L426.2,385.2L425.6,383.5L425.6,382.6L424.6,382.3L422.2,379.5L421.5,378.0L421.1,377.5L420.3,375.4M433.2,387.2L434.1,390.9L434.6,392.7L434.0,395.6L434.2,396.6M434.2,396.6L433.0,396.1L432.4,396.3L432.1,397.0L431.5,398.0L431.4,398.9L432.6,400.4L434.0,400.1L434.5,398.9L434.4,397.7L434.2,396.6M434.5,398.9L436.2,398.9M429.3,386.8L426.0,388.7L423.9,390.6L423.1,392.4L422.3,393.4L421.1,393.6L420.7,394.8L420.4,395.7L418.9,396.3L417.1,396.1L416.0,395.4L415.1,395.1L414.0,395.7L413.4,396.9L412.3,397.7L411.1,398.9L409.5,399.2L409.1,398.2L409.3,396.6L408.1,394.2L407.5,393.8M407.5,393.8L407.1,403.4L405.0,404.7L403.8,405.0L402.5,404.5L401.5,404.2L401.2,403.1L400.3,402.4L399.2,403.7M407.5,393.8L407.8,386.2L410.0,386.0L410.4,376.8L412.1,376.7L415.6,375.8L416.4,376.8L417.9,375.8L418.6,375.8L419.9,375.2M427.2,404.7L427.9,405.5L427.2,406.8L426.7,407.6L425.4,408.0L425.0,408.9L424.2,409.1L422.6,407.1L423.9,405.4L425.2,404.4L426.3,403.9L427.2,404.7M385.1,323.1L388.8,323.2L388.9,326.3L385.5,326.3L384.7,326.5M391.2,345.0L392.2,344.7L392.8,344.7"/>
<g fill="#fef0d9" stroke-width="0.3" stroke-opacity="0.5"><circle cx="222.1" cy="284.5" r="0.42"/><circle cx="220.0" cy="283.9" r="0.35"/><circle cx="222.5" cy="286.7" r="0.56"/><circle cx="222.8" cy="288.8" r="0.42"/><circle cx="223.5" cy="290.8" r="0.49"/><circle cx="223.4" cy="292.8" r="0.42"/><circle cx="222.8" cy="294.5" r="0.35"/><circle cx="226.5" cy="294.7" r="0.42"/><circle cx="221.5" cy="297.5" r="0.35"/><circle cx="305.7" cy="284.6" r="0.42"/><circle cx="307.9" cy="285.6" r="0.35"/><circle cx="310.6" cy="287.1" r="0.42"/><circle cx="309.0" cy="289.7" r="0.49"/><circle cx="307.1" cy="290.2" r="0.42"/><circle cx="310.6" cy="285.4" r="0.28"/><circle cx="378.1" cy="328.4" r="0.42"/><circle cx="379.9" cy="324.9" r="0.28"/><circle cx="462.2" cy="359.6" r="0.42"/><circle cx="464.6" cy="361.0" r="0.35"/><circle cx="490.7" cy="341.2" r="0.35"/><circle cx="493.2" cy="382.0" r="0.49"/><circle cx="532.2" cy="318.1" r="0.32"/><circle cx="531.6" cy="323.9" r="0.28"/><circle cx="672.3" cy="309.6" r="0.35"/><circle cx="680.0" cy="304.3" r="0.28"/><circle cx="712.2" cy="309.8" r="0.32"/><circle cx="726.9" cy="311.1" r="0.35"/><circle cx="738.2" cy="315.3" r="0.28"/><circle cx="756.7" cy="310.6" r="0.28"/><circle cx="747.5" cy="305.3" r="0.28"/><circle cx="761.8" cy="325.4" r="0.28"/><circle cx="747.8" cy="330.4" r="0.28"/><circle cx="774.8" cy="351.3" r="0.28"/><circle cx="773.9" cy="348.7" r="0.28"/><circle cx="771.0" cy="345.5" r="0.28"/><circle cx="-0.1" cy="324.1" r="0.42"/></g>
</g>
<g class="leg">
<rect x="186.200" y="537.1" width="47.700" height="11.5" fill="url(#hatch)" stroke="#cbcbcb" stroke-width="0.9"/>
<line x1="210" y1="534.4" x2="210" y2="537.1" stroke="#c4c4c4" stroke-width="0.8"/>
<text x="210.200" y="530" text-anchor="middle">No data</text>
<rect x="253.80" y="537.0" width="58.67" height="11.2" fill="#fef0d9"/>
<rect x="312.27" y="537.0" width="58.67" height="11.2" fill="#fdd49e"/>
<rect x="370.74" y="537.0" width="58.67" height="11.2" fill="#fdbb84"/>
<rect x="429.21" y="537.0" width="58.67" height="11.2" fill="#fc8d59"/>
<rect x="487.68" y="537.0" width="58.67" height="11.2" fill="#ef6548"/>
<rect x="546.15" y="537.0" width="58.67" height="11.2" fill="#d7301f"/>
<path d="M604.62,537.0H658.9L663.6,542.6L658.9,548.2H604.62Z" fill="#990000"/>
<path d="M253.80,537.0H658.9L663.6,542.6L658.9,548.2H253.80Z" fill="none" stroke="#8a8a8a" stroke-opacity="0.55" stroke-width="0.6"/>
<g stroke="#6e6e6e" stroke-opacity="0.55" stroke-width="0.7"><line x1="253.80" y1="534.2" x2="253.80" y2="548.2"/><line x1="312.27" y1="534.2" x2="312.27" y2="548.2"/><line x1="370.74" y1="534.2" x2="370.74" y2="548.2"/><line x1="429.21" y1="534.2" x2="429.21" y2="548.2"/><line x1="487.68" y1="534.2" x2="487.68" y2="548.2"/><line x1="546.15" y1="534.2" x2="546.15" y2="548.2"/><line x1="604.62" y1="534.2" x2="604.62" y2="548.2"/></g>
<text x="253.80" y="530" text-anchor="middle">0%</text>
<text x="312.27" y="530" text-anchor="middle">0.2%</text>
<text x="370.74" y="530" text-anchor="middle">0.5%</text>
<text x="429.21" y="530" text-anchor="middle">1%</text>
<text x="487.68" y="530" text-anchor="middle">2%</text>
<text x="546.15" y="530" text-anchor="middle">5%</text>
<text x="604.62" y="530" text-anchor="middle">10%</text>
</g>
</svg>
<div class="foot l"><b>Data source:</b> Global Carbon Budget (2025)</div>
<div class="foot r">OurWorldinData.org/co2-and-greenhouse-gas-emissions | CC BY</div>
</body>
</html>
